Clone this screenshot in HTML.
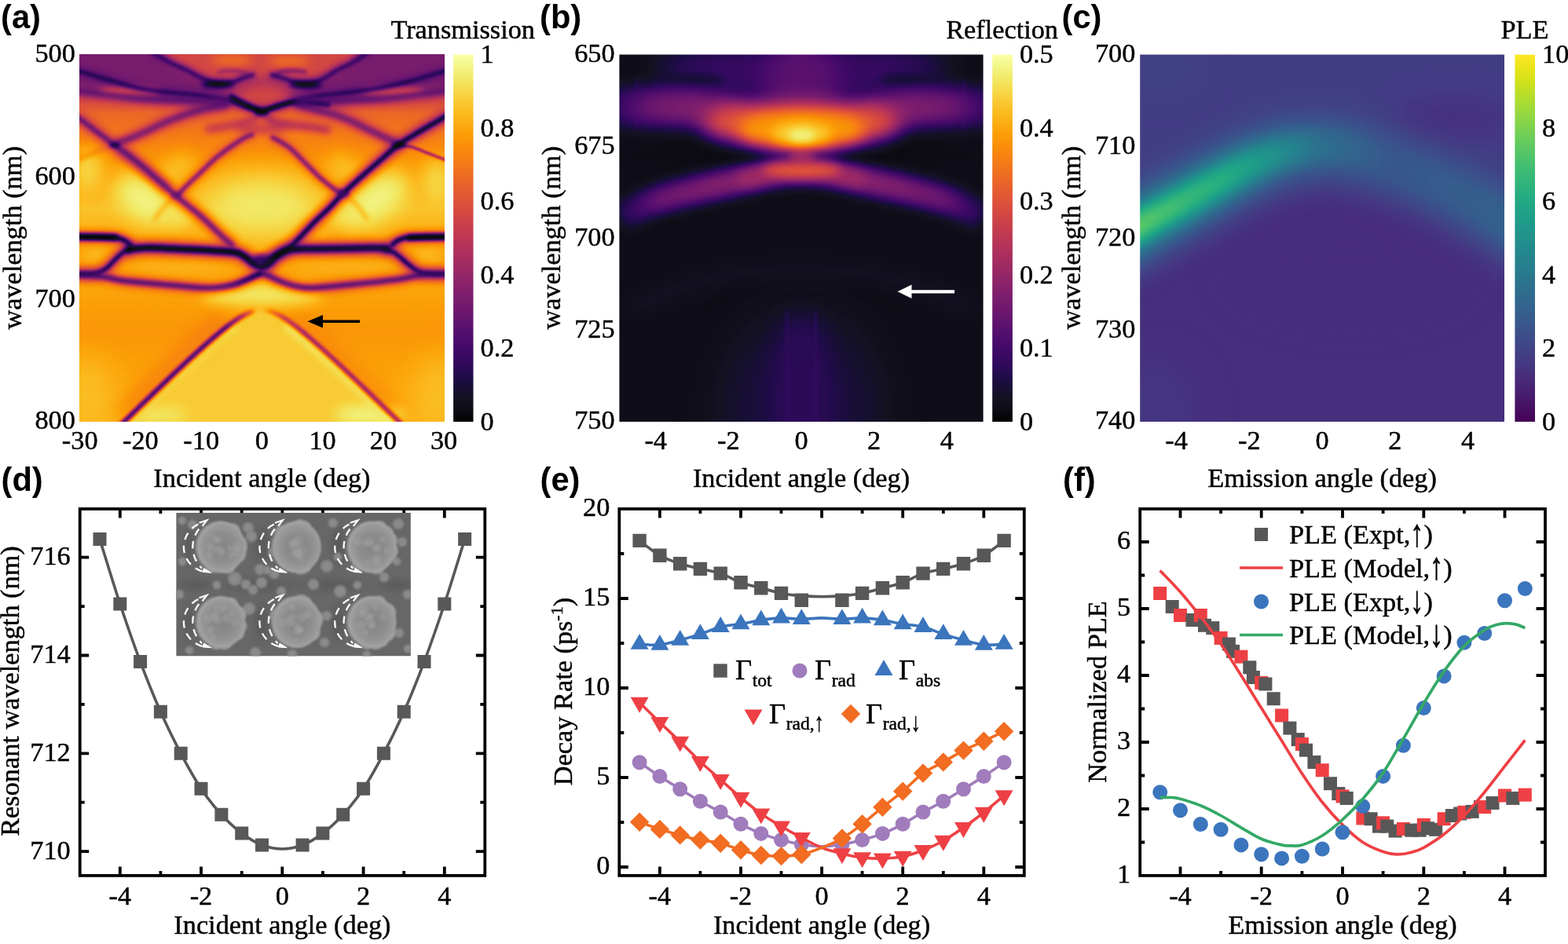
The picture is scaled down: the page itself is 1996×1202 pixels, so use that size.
<!DOCTYPE html>
<html lang="en"><head><meta charset="utf-8"><title>Figure</title>
<style>
html,body{margin:0;padding:0;background:#fff;}
body{width:1996px;height:1202px;overflow:hidden;}
svg{display:block;}
.s{font-family:'Liberation Serif',serif;font-size:34.3px;fill:#000;stroke:#000;stroke-width:.45px;}
.b{font-family:'Liberation Sans',sans-serif;font-weight:bold;font-size:41.7px;fill:#000;}
</style></head><body>
<svg width="1996" height="1202" viewBox="0 0 1996 1202">
<defs>
<linearGradient id="gInf" x1="0" y1="0" x2="0" y2="1"><stop offset="0.000" stop-color="#fcffa4"/><stop offset="0.031" stop-color="#f3f68a"/><stop offset="0.062" stop-color="#f2ea69"/><stop offset="0.094" stop-color="#f5db4c"/><stop offset="0.125" stop-color="#f9cb35"/><stop offset="0.156" stop-color="#fbbc21"/><stop offset="0.188" stop-color="#fcac11"/><stop offset="0.219" stop-color="#fb9d07"/><stop offset="0.250" stop-color="#f98e09"/><stop offset="0.281" stop-color="#f68013"/><stop offset="0.312" stop-color="#f1731d"/><stop offset="0.344" stop-color="#eb6628"/><stop offset="0.375" stop-color="#e45a31"/><stop offset="0.406" stop-color="#db503b"/><stop offset="0.438" stop-color="#d24644"/><stop offset="0.469" stop-color="#c73e4c"/><stop offset="0.500" stop-color="#bc3754"/><stop offset="0.531" stop-color="#b0315b"/><stop offset="0.562" stop-color="#a32c61"/><stop offset="0.594" stop-color="#972766"/><stop offset="0.625" stop-color="#8a226a"/><stop offset="0.656" stop-color="#7d1e6d"/><stop offset="0.688" stop-color="#71196e"/><stop offset="0.719" stop-color="#64156e"/><stop offset="0.750" stop-color="#57106e"/><stop offset="0.781" stop-color="#4a0c6b"/><stop offset="0.812" stop-color="#3d0965"/><stop offset="0.844" stop-color="#2f0a5b"/><stop offset="0.875" stop-color="#210c4a"/><stop offset="0.906" stop-color="#170f36"/><stop offset="0.938" stop-color="#141121"/><stop offset="0.969" stop-color="#0d0b13"/><stop offset="1.000" stop-color="#000000"/></linearGradient>
<linearGradient id="gVir" x1="0" y1="0" x2="0" y2="1"><stop offset="0.000" stop-color="#fde725"/><stop offset="0.031" stop-color="#ece51b"/><stop offset="0.062" stop-color="#d8e219"/><stop offset="0.094" stop-color="#c2df23"/><stop offset="0.125" stop-color="#addc30"/><stop offset="0.156" stop-color="#98d83e"/><stop offset="0.188" stop-color="#84d44b"/><stop offset="0.219" stop-color="#70cf57"/><stop offset="0.250" stop-color="#5ec962"/><stop offset="0.281" stop-color="#4ec36b"/><stop offset="0.312" stop-color="#3fbc73"/><stop offset="0.344" stop-color="#32b67a"/><stop offset="0.375" stop-color="#28ae80"/><stop offset="0.406" stop-color="#22a785"/><stop offset="0.438" stop-color="#1fa088"/><stop offset="0.469" stop-color="#1f988b"/><stop offset="0.500" stop-color="#21918c"/><stop offset="0.531" stop-color="#23898e"/><stop offset="0.562" stop-color="#26828e"/><stop offset="0.594" stop-color="#297a8e"/><stop offset="0.625" stop-color="#2c728e"/><stop offset="0.656" stop-color="#2f6b8e"/><stop offset="0.688" stop-color="#33638d"/><stop offset="0.719" stop-color="#375b8d"/><stop offset="0.750" stop-color="#3b528b"/><stop offset="0.781" stop-color="#3e4989"/><stop offset="0.812" stop-color="#424086"/><stop offset="0.844" stop-color="#453781"/><stop offset="0.875" stop-color="#472d7b"/><stop offset="0.906" stop-color="#482374"/><stop offset="0.938" stop-color="#48186a"/><stop offset="0.969" stop-color="#470d60"/><stop offset="1.000" stop-color="#440154"/></linearGradient>
<clipPath id="cfA"><rect x="101.7" y="69.6" width="463.4" height="467.4"/></clipPath>
<filter id="fA" x="100" y="68" width="467" height="471" filterUnits="userSpaceOnUse" color-interpolation-filters="sRGB"><feComponentTransfer><feFuncR type="table" tableValues="0.000 0.050 0.080 0.092 0.129 0.183 0.238 0.291 0.342 0.391 0.441 0.491 0.541 0.591 0.640 0.689 0.736 0.781 0.822 0.861 0.894 0.923 0.947 0.965 0.978 0.986 0.988 0.984 0.975 0.961 0.948 0.955 0.988"/><feFuncG type="table" tableValues="0.000 0.045 0.068 0.060 0.047 0.040 0.037 0.046 0.062 0.081 0.099 0.117 0.135 0.153 0.171 0.192 0.216 0.243 0.275 0.312 0.353 0.399 0.449 0.502 0.558 0.616 0.675 0.736 0.798 0.859 0.917 0.966 0.998"/><feFuncB type="table" tableValues="0.000 0.075 0.130 0.210 0.291 0.355 0.396 0.419 0.429 0.433 0.432 0.426 0.415 0.400 0.381 0.358 0.330 0.300 0.266 0.231 0.194 0.155 0.115 0.074 0.035 0.026 0.065 0.130 0.206 0.298 0.411 0.540 0.645"/></feComponentTransfer></filter>
<linearGradient id="gA0" x1="0" y1="69.6" x2="0" y2="537.0" gradientUnits="userSpaceOnUse"><stop offset="0" stop-color="#737373"/><stop offset="0.10" stop-color="#808080"/><stop offset="0.16" stop-color="#a8a8a8"/><stop offset="0.30" stop-color="#c7c7c7"/><stop offset="0.42" stop-color="#dbdbdb"/><stop offset="0.52" stop-color="#cccccc"/><stop offset="0.62" stop-color="#cccccc"/><stop offset="0.75" stop-color="#c4c4c4"/><stop offset="1" stop-color="#d1d1d1"/></linearGradient>
<linearGradient id="hg1" gradientUnits="userSpaceOnUse" x1="160" y1="0" x2="496" y2="0"><stop offset="0.000" stop-color="#000000"/><stop offset="0.506" stop-color="#000000"/><stop offset="0.655" stop-color="#080808"/><stop offset="1.000" stop-color="#0f0f0f"/></linearGradient>
<linearGradient id="hg2" gradientUnits="userSpaceOnUse" x1="250" y1="0" x2="333" y2="0"><stop offset="0.000" stop-color="#262626" stop-opacity="0.00"/><stop offset="0.361" stop-color="#1f1f1f" stop-opacity="0.00"/><stop offset="0.723" stop-color="#0d0d0d" stop-opacity="0.60"/><stop offset="1.000" stop-color="#000000" stop-opacity="0.90"/></linearGradient>
<linearGradient id="hg3" gradientUnits="userSpaceOnUse" x1="147" y1="0" x2="332" y2="0"><stop offset="0.000" stop-color="#080808" stop-opacity="1.00"/><stop offset="0.746" stop-color="#0f0f0f" stop-opacity="1.00"/><stop offset="0.870" stop-color="#404040" stop-opacity="0.85"/><stop offset="0.946" stop-color="#737373" stop-opacity="0.50"/><stop offset="1.000" stop-color="#999999" stop-opacity="0.00"/></linearGradient>
<linearGradient id="hg4" gradientUnits="userSpaceOnUse" x1="335" y1="0" x2="525" y2="0"><stop offset="0.000" stop-color="#999999" stop-opacity="0.00"/><stop offset="0.053" stop-color="#808080" stop-opacity="0.50"/><stop offset="0.132" stop-color="#595959" stop-opacity="0.80"/><stop offset="0.263" stop-color="#454545" stop-opacity="0.92"/><stop offset="1.000" stop-color="#404040" stop-opacity="0.92"/></linearGradient>
<filter id="b30" x="0" y="0" width="1996" height="640" filterUnits="userSpaceOnUse" color-interpolation-filters="sRGB"><feGaussianBlur stdDeviation="3"/></filter>
<filter id="b50" x="0" y="0" width="1996" height="640" filterUnits="userSpaceOnUse" color-interpolation-filters="sRGB"><feGaussianBlur stdDeviation="5"/></filter>
<filter id="b80" x="0" y="0" width="1996" height="640" filterUnits="userSpaceOnUse" color-interpolation-filters="sRGB"><feGaussianBlur stdDeviation="8"/></filter>
<filter id="b90" x="0" y="0" width="1996" height="640" filterUnits="userSpaceOnUse" color-interpolation-filters="sRGB"><feGaussianBlur stdDeviation="9"/></filter>
<filter id="b180" x="0" y="0" width="1996" height="640" filterUnits="userSpaceOnUse" color-interpolation-filters="sRGB"><feGaussianBlur stdDeviation="18"/></filter>
<filter id="b200" x="0" y="0" width="1996" height="640" filterUnits="userSpaceOnUse" color-interpolation-filters="sRGB"><feGaussianBlur stdDeviation="20"/></filter>
<filter id="b130" x="0" y="0" width="1996" height="640" filterUnits="userSpaceOnUse" color-interpolation-filters="sRGB"><feGaussianBlur stdDeviation="13"/></filter>
<filter id="b100" x="0" y="0" width="1996" height="640" filterUnits="userSpaceOnUse" color-interpolation-filters="sRGB"><feGaussianBlur stdDeviation="10"/></filter>
<filter id="b60" x="0" y="0" width="1996" height="640" filterUnits="userSpaceOnUse" color-interpolation-filters="sRGB"><feGaussianBlur stdDeviation="6"/></filter>
<filter id="b70" x="0" y="0" width="1996" height="640" filterUnits="userSpaceOnUse" color-interpolation-filters="sRGB"><feGaussianBlur stdDeviation="7"/></filter>
<filter id="b40" x="0" y="0" width="1996" height="640" filterUnits="userSpaceOnUse" color-interpolation-filters="sRGB"><feGaussianBlur stdDeviation="4"/></filter>
<filter id="b22" x="0" y="0" width="1996" height="640" filterUnits="userSpaceOnUse" color-interpolation-filters="sRGB"><feGaussianBlur stdDeviation="2.2"/></filter>
<filter id="b24" x="0" y="0" width="1996" height="640" filterUnits="userSpaceOnUse" color-interpolation-filters="sRGB"><feGaussianBlur stdDeviation="2.4"/></filter>
<filter id="b25" x="0" y="0" width="1996" height="640" filterUnits="userSpaceOnUse" color-interpolation-filters="sRGB"><feGaussianBlur stdDeviation="2.5"/></filter>
<filter id="b18" x="0" y="0" width="1996" height="640" filterUnits="userSpaceOnUse" color-interpolation-filters="sRGB"><feGaussianBlur stdDeviation="1.8"/></filter>
<filter id="b55" x="0" y="0" width="1996" height="640" filterUnits="userSpaceOnUse" color-interpolation-filters="sRGB"><feGaussianBlur stdDeviation="5.5"/></filter>
<filter id="b23" x="0" y="0" width="1996" height="640" filterUnits="userSpaceOnUse" color-interpolation-filters="sRGB"><feGaussianBlur stdDeviation="2.3"/></filter>
<filter id="b35" x="0" y="0" width="1996" height="640" filterUnits="userSpaceOnUse" color-interpolation-filters="sRGB"><feGaussianBlur stdDeviation="3.5"/></filter>
<filter id="b19" x="0" y="0" width="1996" height="640" filterUnits="userSpaceOnUse" color-interpolation-filters="sRGB"><feGaussianBlur stdDeviation="1.9"/></filter>
<filter id="b20" x="0" y="0" width="1996" height="640" filterUnits="userSpaceOnUse" color-interpolation-filters="sRGB"><feGaussianBlur stdDeviation="2.0"/></filter>
<clipPath id="cfB"><rect x="788.4" y="69.6" width="463.2" height="467.4"/></clipPath>
<filter id="fB" x="787" y="68" width="467" height="471" filterUnits="userSpaceOnUse" color-interpolation-filters="sRGB"><feComponentTransfer><feFuncR type="table" tableValues="0.000 0.050 0.080 0.092 0.129 0.183 0.238 0.291 0.342 0.391 0.441 0.491 0.541 0.591 0.640 0.689 0.736 0.781 0.822 0.861 0.894 0.923 0.947 0.965 0.978 0.986 0.988 0.984 0.975 0.961 0.948 0.955 0.988"/><feFuncG type="table" tableValues="0.000 0.045 0.068 0.060 0.047 0.040 0.037 0.046 0.062 0.081 0.099 0.117 0.135 0.153 0.171 0.192 0.216 0.243 0.275 0.312 0.353 0.399 0.449 0.502 0.558 0.616 0.675 0.736 0.798 0.859 0.917 0.966 0.998"/><feFuncB type="table" tableValues="0.000 0.075 0.130 0.210 0.291 0.355 0.396 0.419 0.429 0.433 0.432 0.426 0.415 0.400 0.381 0.358 0.330 0.300 0.266 0.231 0.194 0.155 0.115 0.074 0.035 0.026 0.065 0.130 0.206 0.298 0.411 0.540 0.645"/></feComponentTransfer></filter>
<linearGradient id="hg5" gradientUnits="userSpaceOnUse" x1="795" y1="0" x2="1246" y2="0"><stop offset="0.000" stop-color="#333333"/><stop offset="0.078" stop-color="#4f4f4f"/><stop offset="0.188" stop-color="#595959"/><stop offset="0.322" stop-color="#616161"/><stop offset="0.678" stop-color="#616161"/><stop offset="0.812" stop-color="#595959"/><stop offset="0.922" stop-color="#4f4f4f"/><stop offset="1.000" stop-color="#333333"/></linearGradient>
<linearGradient id="hg6" gradientUnits="userSpaceOnUse" x1="800" y1="0" x2="1241" y2="0"><stop offset="0.000" stop-color="#292929"/><stop offset="0.091" stop-color="#4c4c4c"/><stop offset="0.227" stop-color="#595959"/><stop offset="0.363" stop-color="#616161"/><stop offset="0.637" stop-color="#616161"/><stop offset="0.773" stop-color="#595959"/><stop offset="0.909" stop-color="#4c4c4c"/><stop offset="1.000" stop-color="#292929"/></linearGradient>
<filter id="b160" x="0" y="0" width="1996" height="640" filterUnits="userSpaceOnUse" color-interpolation-filters="sRGB"><feGaussianBlur stdDeviation="16"/></filter>
<filter id="b300" x="0" y="0" width="1996" height="640" filterUnits="userSpaceOnUse" color-interpolation-filters="sRGB"><feGaussianBlur stdDeviation="30"/></filter>
<filter id="b140" x="0" y="0" width="1996" height="640" filterUnits="userSpaceOnUse" color-interpolation-filters="sRGB"><feGaussianBlur stdDeviation="14"/></filter>
<filter id="b120" x="0" y="0" width="1996" height="640" filterUnits="userSpaceOnUse" color-interpolation-filters="sRGB"><feGaussianBlur stdDeviation="12"/></filter>
<clipPath id="cfC"><rect x="1451.2" y="69.6" width="463.8" height="467.4"/></clipPath>
<filter id="fC" x="1450" y="68" width="467" height="471" filterUnits="userSpaceOnUse" color-interpolation-filters="sRGB"><feComponentTransfer><feFuncR type="table" tableValues="0.267 0.277 0.282 0.283 0.279 0.271 0.259 0.245 0.230 0.214 0.199 0.186 0.173 0.161 0.149 0.138 0.128 0.121 0.121 0.132 0.158 0.197 0.246 0.304 0.369 0.440 0.516 0.596 0.678 0.762 0.846 0.926 0.993"/><feFuncG type="table" tableValues="0.005 0.050 0.095 0.136 0.175 0.214 0.252 0.288 0.322 0.356 0.388 0.419 0.449 0.479 0.508 0.537 0.567 0.596 0.626 0.655 0.684 0.712 0.739 0.765 0.789 0.811 0.831 0.849 0.864 0.876 0.887 0.897 0.906"/><feFuncB type="table" tableValues="0.329 0.376 0.417 0.453 0.483 0.507 0.525 0.537 0.546 0.551 0.555 0.557 0.558 0.558 0.557 0.555 0.551 0.544 0.533 0.520 0.502 0.479 0.452 0.420 0.383 0.341 0.294 0.243 0.190 0.137 0.100 0.104 0.144"/></feComponentTransfer></filter>
<linearGradient id="hg7" gradientUnits="userSpaceOnUse" x1="1451" y1="0" x2="1915" y2="0"><stop offset="0.000" stop-color="#5c5c5c"/><stop offset="0.235" stop-color="#525252"/><stop offset="0.472" stop-color="#454545"/><stop offset="0.709" stop-color="#3c3c3c"/><stop offset="1.000" stop-color="#424242"/></linearGradient>
<linearGradient id="hg8" gradientUnits="userSpaceOnUse" x1="1451" y1="0" x2="1915" y2="0"><stop offset="0.000" stop-color="#8a8a8a"/><stop offset="0.192" stop-color="#808080"/><stop offset="0.321" stop-color="#707070"/><stop offset="0.472" stop-color="#575757"/><stop offset="0.688" stop-color="#424242"/><stop offset="1.000" stop-color="#4c4c4c"/></linearGradient>
<linearGradient id="hg9" gradientUnits="userSpaceOnUse" x1="1451" y1="0" x2="1915" y2="0"><stop offset="0.000" stop-color="#c2c2c2"/><stop offset="0.106" stop-color="#b2b2b2"/><stop offset="0.235" stop-color="#a1a1a1"/><stop offset="0.364" stop-color="#858585"/><stop offset="0.494" stop-color="#5e5e5e"/><stop offset="0.688" stop-color="#454545"/><stop offset="1.000" stop-color="#4f4f4f"/></linearGradient>
<filter id="b220" x="0" y="0" width="1996" height="640" filterUnits="userSpaceOnUse" color-interpolation-filters="sRGB"><feGaussianBlur stdDeviation="22"/></filter>
<filter id="b250" x="0" y="0" width="1996" height="640" filterUnits="userSpaceOnUse" color-interpolation-filters="sRGB"><feGaussianBlur stdDeviation="25"/></filter>
<filter id="b85" x="0" y="0" width="1996" height="640" filterUnits="userSpaceOnUse" color-interpolation-filters="sRGB"><feGaussianBlur stdDeviation="8.5"/></filter>
<radialGradient id="semP" cx="0.53" cy="0.5" r="0.5"><stop offset="0" stop-color="#848484"/><stop offset="0.55" stop-color="#8d8d8d"/><stop offset="0.86" stop-color="#9b9b9b"/><stop offset="0.96" stop-color="#a6a6a6"/><stop offset="1" stop-color="#8c8c8c"/></radialGradient>
<radialGradient id="semS" cx="0.5" cy="0.5" r="0.5"><stop offset="0" stop-color="#8e8e8e"/><stop offset="0.72" stop-color="#868686"/><stop offset="1" stop-color="#6a6a6a" stop-opacity="0"/></radialGradient>
<radialGradient id="semL" cx="0.5" cy="0.5" r="0.5"><stop offset="0" stop-color="#a2a2a2" stop-opacity="0.5"/><stop offset="0.8" stop-color="#9c9c9c" stop-opacity="0.35"/><stop offset="1" stop-color="#6f6f6f" stop-opacity="0.25"/></radialGradient>
<radialGradient id="semD" cx="0.5" cy="0.5" r="0.5"><stop offset="0" stop-color="#585858" stop-opacity="0.85"/><stop offset="1" stop-color="#585858" stop-opacity="0"/></radialGradient>
<clipPath id="semC"><rect x="224.2" y="653.0" width="298.7" height="182.5"/></clipPath>
<filter id="semB" x="200" y="640" width="350" height="210" filterUnits="userSpaceOnUse"><feGaussianBlur stdDeviation="0.8"/></filter>
</defs>
<rect width="1996" height="1202" fill="#fff"/>
<g clip-path="url(#cfA)"><g filter="url(#fA)">
<rect x="81.7" y="49.599999999999994" width="503.4" height="507.4" fill="url(#gA0)"/>
<g filter="url(#b30)"><path d="M143.0 567.0L143.0 551.6L153.0 541.8L163.0 532.1L173.0 522.4L183.0 512.7L193.0 503.0L203.0 493.4L213.0 483.8L223.0 474.3L233.0 464.9L243.0 455.6L253.0 446.5L263.0 437.5L273.0 428.8L283.0 420.5L293.0 412.7L303.0 405.8L313.0 400.2L323.0 396.4L333.0 395.0L343.0 396.4L353.0 400.2L363.0 405.8L373.0 412.7L383.0 420.5L393.0 428.8L403.0 437.5L413.0 446.5L423.0 455.6L433.0 464.9L443.0 474.3L453.0 483.8L463.0 493.4L473.0 503.0L483.0 512.7L493.0 522.4L503.0 532.1L513.0 541.8L523.0 551.6L523.0 567.0z" fill="#dfdfdf"/></g>
<g filter="url(#b50)"><path d="M158.0 546.0C160.0 544.0 166.0 538.2 170.0 534.3C174.0 530.4 178.0 526.5 182.0 522.6C186.0 518.8 190.0 514.9 194.0 511.0C198.0 507.2 202.0 503.4 206.0 499.5C210.0 495.7 214.0 491.9 218.0 488.1C222.0 484.3 226.0 480.5 230.0 476.7C234.0 473.0 238.0 469.2 242.0 465.6C246.0 461.9 250.0 458.2 254.0 454.6C258.0 450.9 262.0 447.4 266.0 443.9C270.0 440.4 274.0 436.9 278.0 433.6C282.0 430.3 286.0 427.0 290.0 424.0C294.0 421.0 300.0 416.9 302.0 415.5" fill="none" stroke="#f2f2f2" stroke-width="9" stroke-opacity="0.80"/><path d="M363.0 414.8C365.0 416.2 371.0 420.2 375.0 423.2C379.0 426.2 383.0 429.5 387.0 432.8C391.0 436.0 395.0 439.5 399.0 443.0C403.0 446.5 407.0 450.0 411.0 453.7C415.0 457.3 419.0 460.9 423.0 464.6C427.0 468.3 431.0 472.1 435.0 475.8C439.0 479.6 443.0 483.3 447.0 487.1C451.0 490.9 455.0 494.7 459.0 498.6C463.0 502.4 467.0 506.2 471.0 510.1C475.0 513.9 479.0 517.8 483.0 521.7C487.0 525.5 491.0 529.4 495.0 533.3C499.0 537.2 505.0 543.0 507.0 545.0" fill="none" stroke="#f7f7f7" stroke-width="10" stroke-opacity="0.90"/></g>
<g filter="url(#b80)"><ellipse cx="200.0" cy="528.0" rx="40.0" ry="10.0" fill="#f2f2f2" fill-opacity="0.80"/><ellipse cx="470.0" cy="528.0" rx="45.0" ry="12.0" fill="#f7f7f7" fill-opacity="0.90"/></g>
<g filter="url(#b90)"><path d="M153.0 527.8C155.0 525.9 161.0 520.0 165.0 516.1C169.0 512.2 173.0 508.4 177.0 504.5C181.0 500.6 185.0 496.7 189.0 492.9C193.0 489.0 197.0 485.2 201.0 481.3C205.0 477.5 209.0 473.6 213.0 469.8C217.0 466.0 221.0 462.2 225.0 458.5C229.0 454.7 233.0 450.9 237.0 447.2C241.0 443.5 245.0 439.8 249.0 436.1C253.0 432.5 257.0 428.8 261.0 425.3C265.0 421.7 269.0 418.2 273.0 414.8C277.0 411.4 283.0 406.5 285.0 404.9" fill="none" stroke="#b2b2b2" stroke-width="22" stroke-opacity="0.70"/><path d="M373.0 400.7C375.0 402.3 381.0 406.9 385.0 410.1C389.0 413.4 393.0 416.8 397.0 420.2C401.0 423.7 405.0 427.3 409.0 430.9C413.0 434.4 417.0 438.1 421.0 441.8C425.0 445.5 429.0 449.2 433.0 452.9C437.0 456.7 441.0 460.4 445.0 464.2C449.0 468.0 453.0 471.8 457.0 475.7C461.0 479.5 465.0 483.3 469.0 487.2C473.0 491.0 477.0 494.9 481.0 498.7C485.0 502.6 489.0 506.5 493.0 510.4C497.0 514.2 503.0 520.1 505.0 522.0" fill="none" stroke="#b8b8b8" stroke-width="18" stroke-opacity="0.60"/></g>
<g filter="url(#b180)"><ellipse cx="110.0" cy="500.0" rx="35.0" ry="50.0" fill="#dbdbdb" fill-opacity="0.80"/><ellipse cx="560.0" cy="500.0" rx="35.0" ry="50.0" fill="#dbdbdb" fill-opacity="0.80"/></g>
<g filter="url(#b90)"><ellipse cx="333.0" cy="375.0" rx="78.0" ry="15.0" fill="#f0f0f0" fill-opacity="0.95"/></g>
<g filter="url(#b200)"><ellipse cx="333.0" cy="262.0" rx="72.0" ry="40.0" fill="#f2f2f2" fill-opacity="0.90"/></g>
<g filter="url(#b130)"><ellipse cx="183.0" cy="254.0" rx="42.0" ry="26.0" fill="#f7f7f7" fill-opacity="0.95" transform="rotate(35 183.0 254.0)"/><ellipse cx="478.0" cy="254.0" rx="48.0" ry="26.0" fill="#f7f7f7" fill-opacity="0.95" transform="rotate(-35 478.0 254.0)"/></g>
<g filter="url(#b80)"><ellipse cx="226.0" cy="276.0" rx="20.0" ry="14.0" fill="#ededed" fill-opacity="0.80"/><ellipse cx="440.0" cy="272.0" rx="22.0" ry="14.0" fill="#ededed" fill-opacity="0.80"/></g>
<g filter="url(#b100)"><ellipse cx="112.0" cy="215.0" rx="18.0" ry="28.0" fill="#ebebeb" fill-opacity="0.80"/><ellipse cx="556.0" cy="230.0" rx="18.0" ry="28.0" fill="#ebebeb" fill-opacity="0.80"/><ellipse cx="225.0" cy="215.0" rx="26.0" ry="16.0" fill="#e0e0e0" fill-opacity="0.70" transform="rotate(-40 225.0 215.0)"/><ellipse cx="440.0" cy="215.0" rx="26.0" ry="16.0" fill="#e0e0e0" fill-opacity="0.70" transform="rotate(40 440.0 215.0)"/></g>
<g filter="url(#b60)"><ellipse cx="230.0" cy="340.0" rx="62.0" ry="9.0" fill="#d6d6d6" fill-opacity="0.60"/><ellipse cx="440.0" cy="338.0" rx="62.0" ry="9.0" fill="#d6d6d6" fill-opacity="0.60"/></g>
<g filter="url(#b70)"><ellipse cx="122.0" cy="325.0" rx="16.0" ry="12.0" fill="#dbdbdb" fill-opacity="0.60"/><ellipse cx="545.0" cy="325.0" rx="16.0" ry="12.0" fill="#dbdbdb" fill-opacity="0.60"/></g>
<g filter="url(#b50)"><path d="M193.0 55.0L470.0 55.0L448.0 80.0L428.0 90.0L400.0 104.0L366.0 100.0L345.0 97.0L336.0 96.0L322.0 98.0L300.0 101.0L268.0 104.0L236.0 88.0L217.0 80.0z" fill="#919191"/></g>
<g filter="url(#b60)"><ellipse cx="295.0" cy="76.0" rx="26.0" ry="8.0" fill="#adadad" fill-opacity="0.90"/><ellipse cx="368.0" cy="78.0" rx="26.0" ry="8.0" fill="#adadad" fill-opacity="0.90"/></g>
<g filter="url(#b70)"><path d="M90.0 55.0L190.0 55.0L215.0 82.0L250.0 100.0L280.0 112.0L300.0 122.0L290.0 133.0L200.0 125.0L90.0 113.0z" fill="#545454" fill-opacity="0.97"/><path d="M580.0 55.0L474.0 55.0L450.0 82.0L415.0 100.0L386.0 112.0L366.0 122.0L377.0 133.0L470.0 125.0L580.0 113.0z" fill="#545454" fill-opacity="0.97"/></g>
<g filter="url(#b40)"><ellipse cx="165.0" cy="116.5" rx="40.0" ry="5.5" fill="#b8b8b8" fill-opacity="0.95"/><ellipse cx="500.0" cy="116.5" rx="40.0" ry="5.5" fill="#b8b8b8" fill-opacity="0.95"/></g>
<g filter="url(#b50)"><ellipse cx="336.0" cy="123.0" rx="24.0" ry="11.0" fill="#8f8f8f" fill-opacity="0.95"/><ellipse cx="300.0" cy="147.0" rx="22.0" ry="7.0" fill="#a8a8a8" fill-opacity="0.85"/><ellipse cx="372.0" cy="148.0" rx="24.0" ry="7.0" fill="#a8a8a8" fill-opacity="0.85"/></g>
<g filter="url(#b60)"><ellipse cx="243.0" cy="138.0" rx="22.0" ry="7.0" fill="#9e9e9e" fill-opacity="0.70"/><ellipse cx="430.0" cy="138.0" rx="22.0" ry="6.0" fill="#999999" fill-opacity="0.60"/></g>
<g filter="url(#b70)"><ellipse cx="262.0" cy="130.0" rx="30.0" ry="8.0" fill="#5c5c5c" fill-opacity="0.70"/></g>
<g filter="url(#b50)"><ellipse cx="333.0" cy="164.0" rx="34.0" ry="6.0" fill="#787878" fill-opacity="0.75"/></g>
<g filter="url(#b70)"><ellipse cx="410.0" cy="128.0" rx="30.0" ry="8.0" fill="#5c5c5c" fill-opacity="0.70"/></g>
<g filter="url(#b50)"><path d="M150.0 190.0C155.0 193.7 169.2 203.7 180.0 212.0C190.8 220.3 209.2 235.3 215.0 240.0" fill="none" stroke="#737373" stroke-width="12" stroke-opacity="0.60"/><path d="M96.0 89.0C103.2 91.2 125.3 98.1 139.0 102.0C152.7 105.9 165.0 109.8 178.0 112.5C191.0 115.2 204.2 116.4 217.0 118.0C229.8 119.6 242.8 120.3 255.0 122.0C267.2 123.7 280.5 125.7 290.0 128.0C299.5 130.3 304.8 133.8 312.0 136.0C319.2 138.2 329.5 140.2 333.0 141.0" fill="none" stroke="#333333" stroke-width="11" stroke-opacity="0.55"/></g>
<g filter="url(#b22)"><path d="M96.0 89.0C103.2 91.2 125.3 98.1 139.0 102.0C152.7 105.9 165.0 109.8 178.0 112.5C191.0 115.2 204.2 116.4 217.0 118.0C229.8 119.6 242.8 120.3 255.0 122.0C267.2 123.7 280.5 125.7 290.0 128.0C299.5 130.3 304.8 133.8 312.0 136.0C319.2 138.2 329.5 140.2 333.0 141.0" fill="none" stroke="#0d0d0d" stroke-width="4" stroke-opacity="0.90"/></g>
<g filter="url(#b50)"><path d="M571.0 89.0C563.7 91.2 540.8 98.3 527.0 102.0C513.2 105.7 500.8 108.5 488.0 111.0C475.2 113.5 463.0 115.2 450.0 117.0C437.0 118.8 422.2 120.2 410.0 122.0C397.8 123.8 386.2 125.7 377.0 128.0C367.8 130.3 362.3 133.8 355.0 136.0C347.7 138.2 336.7 140.2 333.0 141.0" fill="none" stroke="#333333" stroke-width="11" stroke-opacity="0.55"/></g>
<g filter="url(#b22)"><path d="M571.0 89.0C563.7 91.2 540.8 98.3 527.0 102.0C513.2 105.7 500.8 108.5 488.0 111.0C475.2 113.5 463.0 115.2 450.0 117.0C437.0 118.8 422.2 120.2 410.0 122.0C397.8 123.8 386.2 125.7 377.0 128.0C367.8 130.3 362.3 133.8 355.0 136.0C347.7 138.2 336.7 140.2 333.0 141.0" fill="none" stroke="#0d0d0d" stroke-width="4" stroke-opacity="0.90"/></g>
<g filter="url(#b50)"><path d="M193.0 66.0C197.0 68.3 209.8 76.2 217.0 80.0C224.2 83.8 229.5 85.3 236.0 88.5C242.5 91.7 249.5 96.2 256.0 99.0C262.5 101.8 268.5 104.5 275.0 105.5C281.5 106.5 289.2 106.1 295.0 105.0C300.8 103.9 305.2 100.7 310.0 99.0C314.8 97.3 321.7 95.7 324.0 95.0" fill="none" stroke="#333333" stroke-width="10" stroke-opacity="0.50"/></g>
<g filter="url(#b22)"><path d="M193.0 66.0C197.0 68.3 209.8 76.2 217.0 80.0C224.2 83.8 229.5 85.3 236.0 88.5C242.5 91.7 249.5 96.2 256.0 99.0C262.5 101.8 268.5 104.5 275.0 105.5C281.5 106.5 289.2 106.1 295.0 105.0C300.8 103.9 305.2 100.7 310.0 99.0C314.8 97.3 321.7 95.7 324.0 95.0" fill="none" stroke="#141414" stroke-width="4" stroke-opacity="0.85"/></g>
<g filter="url(#b50)"><path d="M470.0 66.0C466.3 68.3 455.0 76.0 448.0 80.0C441.0 84.0 434.3 86.5 428.0 90.0C421.7 93.5 416.0 98.3 410.0 101.0C404.0 103.7 398.0 105.5 392.0 106.0C386.0 106.5 379.7 105.2 374.0 104.0C368.3 102.8 363.0 100.5 358.0 99.0C353.0 97.5 346.3 95.7 344.0 95.0" fill="none" stroke="#333333" stroke-width="10" stroke-opacity="0.50"/></g>
<g filter="url(#b22)"><path d="M470.0 66.0C466.3 68.3 455.0 76.0 448.0 80.0C441.0 84.0 434.3 86.5 428.0 90.0C421.7 93.5 416.0 98.3 410.0 101.0C404.0 103.7 398.0 105.5 392.0 106.0C386.0 106.5 379.7 105.2 374.0 104.0C368.3 102.8 363.0 100.5 358.0 99.0C353.0 97.5 346.3 95.7 344.0 95.0" fill="none" stroke="#141414" stroke-width="4" stroke-opacity="0.85"/></g>
<g filter="url(#b50)"><path d="M96.0 115.0C103.2 116.0 125.3 119.2 139.0 121.0C152.7 122.8 165.0 124.4 178.0 125.5C191.0 126.6 204.0 126.9 217.0 127.5C230.0 128.1 243.8 128.4 256.0 129.0C268.2 129.6 284.3 130.7 290.0 131.0" fill="none" stroke="#4c4c4c" stroke-width="12" stroke-opacity="0.40"/></g>
<g filter="url(#b30)"><path d="M96.0 115.0C103.2 116.0 125.3 119.2 139.0 121.0C152.7 122.8 165.0 124.4 178.0 125.5C191.0 126.6 204.0 126.9 217.0 127.5C230.0 128.1 243.8 128.4 256.0 129.0C268.2 129.6 284.3 130.7 290.0 131.0" fill="none" stroke="#2e2e2e" stroke-width="5" stroke-opacity="0.85"/></g>
<g filter="url(#b50)"><path d="M571.0 115.0C563.7 116.0 540.8 119.2 527.0 121.0C513.2 122.8 500.8 124.4 488.0 125.5C475.2 126.6 463.0 126.9 450.0 127.5C437.0 128.1 422.2 128.4 410.0 129.0C397.8 129.6 382.5 130.7 377.0 131.0" fill="none" stroke="#4c4c4c" stroke-width="12" stroke-opacity="0.40"/></g>
<g filter="url(#b30)"><path d="M571.0 115.0C563.7 116.0 540.8 119.2 527.0 121.0C513.2 122.8 500.8 124.4 488.0 125.5C475.2 126.6 463.0 126.9 450.0 127.5C437.0 128.1 422.2 128.4 410.0 129.0C397.8 129.6 382.5 130.7 377.0 131.0" fill="none" stroke="#2e2e2e" stroke-width="5" stroke-opacity="0.85"/><ellipse cx="277.0" cy="107.5" rx="21.0" ry="4.5" fill="#000000" fill-opacity="0.95"/></g>
<g filter="url(#b24)"><path d="M292.0 122.5C294.5 123.8 302.2 127.6 307.0 130.0C311.8 132.4 317.0 135.1 321.0 137.0C325.0 138.9 329.3 140.8 331.0 141.5" fill="none" stroke="#000000" stroke-width="6.5"/></g>
<g filter="url(#b22)"><path d="M336.0 141.5C339.0 140.2 348.2 135.8 354.0 134.0C359.8 132.2 364.2 130.9 371.0 130.5C377.8 130.1 386.8 130.9 395.0 131.5C403.2 132.1 415.8 133.6 420.0 134.0" fill="none" stroke="#000000" stroke-width="5" stroke-opacity="0.95"/></g>
<g filter="url(#b40)"><path d="M331.0 146.0C329.0 147.2 323.9 151.5 319.0 153.5C314.1 155.5 307.3 156.6 301.5 158.0C295.7 159.4 290.6 160.5 284.0 161.7C277.4 162.9 265.7 164.4 262.0 165.0" fill="none" stroke="#4c4c4c" stroke-width="7" stroke-opacity="0.60"/><path d="M336.0 146.0C338.0 147.4 342.2 152.5 348.0 154.7C353.8 156.9 363.2 158.1 371.0 159.3C378.8 160.5 386.8 160.6 395.0 161.7C403.2 162.8 415.8 165.3 420.0 166.0" fill="none" stroke="#404040" stroke-width="7" stroke-opacity="0.65"/></g>
<g filter="url(#b25)"><path d="M277.0 92.0C279.2 91.7 285.3 90.2 290.0 90.0C294.7 89.8 300.3 89.8 305.0 91.0C309.7 92.2 315.8 96.0 318.0 97.0" fill="none" stroke="#404040" stroke-width="3.5" stroke-opacity="0.70"/><path d="M390.0 92.0C387.5 91.7 380.0 90.2 375.0 90.0C370.0 89.8 364.7 89.8 360.0 91.0C355.3 92.2 349.2 96.0 347.0 97.0" fill="none" stroke="#262626" stroke-width="3.5" stroke-opacity="0.80"/></g>
<g filter="url(#b30)"><ellipse cx="389.0" cy="108.0" rx="21.0" ry="4.5" fill="#000000" fill-opacity="0.95"/></g>
<g filter="url(#b25)"><ellipse cx="333.0" cy="142.5" rx="9.0" ry="5.0" fill="#000000" fill-opacity="0.95"/></g>
<g filter="url(#b60)"><path d="M145.0 184.0C150.5 181.8 166.0 176.2 178.0 171.0C190.0 165.8 204.0 158.2 217.0 153.0C230.0 147.8 243.8 143.0 256.0 139.5C268.2 136.0 284.3 133.2 290.0 132.0" fill="none" stroke="#616161" stroke-width="15" stroke-opacity="0.50"/></g>
<g filter="url(#b30)"><path d="M145.0 184.0C150.5 181.8 166.0 176.2 178.0 171.0C190.0 165.8 204.0 158.2 217.0 153.0C230.0 147.8 243.8 143.0 256.0 139.5C268.2 136.0 284.3 133.2 290.0 132.0" fill="none" stroke="#383838" stroke-width="6" stroke-opacity="0.88"/></g>
<g filter="url(#b60)"><path d="M509.0 184.0C505.5 182.3 494.8 177.2 488.0 174.0C481.2 170.8 474.5 167.7 468.0 164.5C461.5 161.3 455.5 157.9 449.0 155.0C442.5 152.1 437.2 149.7 429.0 147.0C420.8 144.3 408.7 141.5 400.0 139.0C391.3 136.5 380.8 133.2 377.0 132.0" fill="none" stroke="#616161" stroke-width="15" stroke-opacity="0.50"/></g>
<g filter="url(#b30)"><path d="M509.0 184.0C505.5 182.3 494.8 177.2 488.0 174.0C481.2 170.8 474.5 167.7 468.0 164.5C461.5 161.3 455.5 157.9 449.0 155.0C442.5 152.1 437.2 149.7 429.0 147.0C420.8 144.3 408.7 141.5 400.0 139.0C391.3 136.5 380.8 133.2 377.0 132.0" fill="none" stroke="#383838" stroke-width="6" stroke-opacity="0.88"/><path d="M145.0 184.0C140.8 185.7 128.2 190.7 120.0 194.0C111.8 197.3 100.0 202.3 96.0 204.0" fill="none" stroke="#8c8c8c" stroke-width="3" stroke-opacity="0.60"/></g>
<g filter="url(#b18)"><path d="M509.0 184.0C512.0 184.7 520.8 186.1 527.0 188.0C533.2 189.9 538.7 192.7 546.0 195.5C553.3 198.3 566.8 203.4 571.0 205.0" fill="none" stroke="#262626" stroke-width="2.5" stroke-opacity="0.80"/></g>
<g filter="url(#b55)"><path d="M96.0 147.0C104.2 153.2 131.3 173.7 145.0 184.0C158.7 194.3 164.7 198.0 178.0 209.0C191.3 220.0 212.0 238.9 225.0 250.0C238.0 261.1 246.0 266.7 256.0 275.5C266.0 284.3 278.2 296.8 285.0 303.0C291.8 309.2 295.0 311.3 297.0 313.0" fill="none" stroke="#545454" stroke-width="14" stroke-opacity="0.50"/></g>
<g filter="url(#b25)"><path d="M96.0 147.0C104.2 153.2 131.3 173.7 145.0 184.0C158.7 194.3 164.7 198.0 178.0 209.0C191.3 220.0 212.0 238.9 225.0 250.0C238.0 261.1 246.0 266.7 256.0 275.5C266.0 284.3 278.2 296.8 285.0 303.0C291.8 309.2 295.0 311.3 297.0 313.0" fill="none" stroke="#333333" stroke-width="5" stroke-opacity="0.92"/></g>
<g filter="url(#b22)"><ellipse cx="146.0" cy="184.5" rx="7.0" ry="3.2" fill="#0d0d0d" fill-opacity="0.90"/><ellipse cx="224.0" cy="249.0" rx="6.0" ry="4.0" fill="#333333" fill-opacity="0.80"/><ellipse cx="508.0" cy="184.5" rx="9.0" ry="4.0" fill="#000000" fill-opacity="0.95"/><ellipse cx="437.0" cy="246.5" rx="7.0" ry="4.5" fill="#000000" fill-opacity="0.95"/></g>
<g filter="url(#b55)"><path d="M571.0 146.0C566.8 148.4 553.4 156.2 546.0 160.5C538.6 164.8 533.1 168.0 526.6 172.0C520.1 176.0 513.5 179.7 507.0 184.5C500.5 189.3 494.2 195.4 487.7 201.0C481.2 206.6 476.4 210.5 468.0 218.0C459.6 225.5 445.0 238.3 437.0 246.0C429.0 253.7 426.2 257.8 420.0 264.0C413.8 270.2 406.5 276.5 400.0 283.0C393.5 289.5 386.5 297.3 381.0 303.0C375.5 308.7 372.2 313.0 367.0 317.0C361.8 321.0 355.2 323.5 350.0 327.0C344.8 330.5 338.3 336.2 336.0 338.0" fill="none" stroke="#333333" stroke-width="14" stroke-opacity="0.55"/></g>
<g filter="url(#b22)"><path d="M571.0 146.0C566.8 148.4 553.4 156.2 546.0 160.5C538.6 164.8 533.1 168.0 526.6 172.0C520.1 176.0 513.5 179.7 507.0 184.5C500.5 189.3 494.2 195.4 487.7 201.0C481.2 206.6 476.4 210.5 468.0 218.0C459.6 225.5 445.0 238.3 437.0 246.0C429.0 253.7 426.2 257.8 420.0 264.0C413.8 270.2 406.5 276.5 400.0 283.0C393.5 289.5 386.5 297.3 381.0 303.0C375.5 308.7 372.2 313.0 367.0 317.0C361.8 321.0 355.2 323.5 350.0 327.0C344.8 330.5 338.3 336.2 336.0 338.0" fill="none" stroke="#000000" stroke-width="5.5"/></g>
<g filter="url(#b50)"><path d="M323.0 171.0C321.5 171.5 318.7 171.5 314.0 174.0C309.3 176.5 301.5 181.5 295.0 186.0C288.5 190.5 281.5 195.5 275.0 201.0C268.5 206.5 262.5 212.8 256.0 219.0C249.5 225.2 241.2 232.8 236.0 238.0C230.8 243.2 226.8 248.0 225.0 250.0" fill="none" stroke="#666666" stroke-width="11" stroke-opacity="0.40"/></g>
<g filter="url(#b22)"><path d="M323.0 171.0C321.5 171.5 318.7 171.5 314.0 174.0C309.3 176.5 301.5 181.5 295.0 186.0C288.5 190.5 281.5 195.5 275.0 201.0C268.5 206.5 262.5 212.8 256.0 219.0C249.5 225.2 241.2 232.8 236.0 238.0C230.8 243.2 226.8 248.0 225.0 250.0" fill="none" stroke="#333333" stroke-width="4" stroke-opacity="0.90"/></g>
<g filter="url(#b50)"><path d="M345.0 174.0C347.2 175.2 353.7 178.3 358.0 181.0C362.3 183.7 365.7 185.3 371.0 190.0C376.3 194.7 383.5 202.6 390.0 209.0C396.5 215.4 403.5 222.9 410.0 228.6C416.5 234.3 424.5 240.1 429.0 243.0C433.5 245.9 435.7 245.5 437.0 246.0" fill="none" stroke="#666666" stroke-width="11" stroke-opacity="0.40"/></g>
<g filter="url(#b22)"><path d="M345.0 174.0C347.2 175.2 353.7 178.3 358.0 181.0C362.3 183.7 365.7 185.3 371.0 190.0C376.3 194.7 383.5 202.6 390.0 209.0C396.5 215.4 403.5 222.9 410.0 228.6C416.5 234.3 424.5 240.1 429.0 243.0C433.5 245.9 435.7 245.5 437.0 246.0" fill="none" stroke="#333333" stroke-width="4" stroke-opacity="0.90"/></g>
<g filter="url(#b30)"><path d="M225.0 250.0C222.5 252.0 214.8 257.0 210.0 262.0C205.2 267.0 198.3 277.0 196.0 280.0" fill="none" stroke="#999999" stroke-width="3" stroke-opacity="0.60"/><path d="M437.0 246.0C440.0 248.7 449.8 256.3 455.0 262.0C460.2 267.7 465.8 277.0 468.0 280.0" fill="none" stroke="#999999" stroke-width="3" stroke-opacity="0.60"/></g>
<g filter="url(#b50)"><path d="M96.0 301.5C101.7 301.6 121.0 301.8 130.0 302.0C139.0 302.2 145.0 302.2 150.0 303.0C155.0 303.8 157.0 305.2 160.0 307.0C163.0 308.8 166.7 312.8 168.0 314.0" fill="none" stroke="#404040" stroke-width="13" stroke-opacity="0.50"/></g>
<g filter="url(#b22)"><path d="M96.0 301.5C101.7 301.6 121.0 301.8 130.0 302.0C139.0 302.2 145.0 302.2 150.0 303.0C155.0 303.8 157.0 305.2 160.0 307.0C163.0 308.8 166.7 312.8 168.0 314.0" fill="none" stroke="#000000" stroke-width="5.5"/></g>
<g filter="url(#b24)"><path d="M92.0 301.5C97.5 301.6 115.3 301.6 125.0 301.8C134.7 302.0 145.8 302.4 150.0 302.5" fill="none" stroke="#000000" stroke-width="7.5"/></g>
<g filter="url(#b50)"><path d="M571.0 301.5C565.0 301.6 544.3 301.8 535.0 302.0C525.7 302.2 520.0 302.2 515.0 303.0C510.0 303.8 508.0 305.2 505.0 307.0C502.0 308.8 498.3 312.8 497.0 314.0" fill="none" stroke="#404040" stroke-width="13" stroke-opacity="0.50"/></g>
<g filter="url(#b22)"><path d="M571.0 301.5C565.0 301.6 544.3 301.8 535.0 302.0C525.7 302.2 520.0 302.2 515.0 303.0C510.0 303.8 508.0 305.2 505.0 307.0C502.0 308.8 498.3 312.8 497.0 314.0" fill="none" stroke="#000000" stroke-width="5.5"/></g>
<g filter="url(#b24)"><path d="M575.0 301.5C570.0 301.6 554.5 301.6 545.0 301.8C535.5 302.0 522.5 302.4 518.0 302.5" fill="none" stroke="#000000" stroke-width="7"/></g>
<g filter="url(#b55)"><path d="M96.0 349.0C99.2 348.9 110.2 348.8 115.0 348.5C119.8 348.2 121.7 348.1 125.0 347.0C128.3 345.9 131.2 345.0 135.0 342.0C138.8 339.0 144.3 332.5 148.0 329.0C151.7 325.5 154.0 322.9 157.0 321.0C160.0 319.1 164.5 318.1 166.0 317.5" fill="none" stroke="#333333" stroke-width="14" stroke-opacity="0.50"/></g>
<g filter="url(#b23)"><path d="M96.0 349.0C99.2 348.9 110.2 348.8 115.0 348.5C119.8 348.2 121.7 348.1 125.0 347.0C128.3 345.9 131.2 345.0 135.0 342.0C138.8 339.0 144.3 332.5 148.0 329.0C151.7 325.5 154.0 322.9 157.0 321.0C160.0 319.1 164.5 318.1 166.0 317.5" fill="none" stroke="#050505" stroke-width="5"/></g>
<g filter="url(#b55)"><path d="M488.0 316.0C490.5 317.1 497.8 319.2 503.0 322.5C508.2 325.8 514.8 332.6 519.0 336.0C523.2 339.4 525.2 341.2 528.0 343.0C530.8 344.8 532.3 346.1 536.0 347.0C539.7 347.9 544.2 348.2 550.0 348.5C555.8 348.8 567.5 348.9 571.0 349.0" fill="none" stroke="#333333" stroke-width="14" stroke-opacity="0.50"/></g>
<g filter="url(#b23)"><path d="M488.0 316.0C490.5 317.1 497.8 319.2 503.0 322.5C508.2 325.8 514.8 332.6 519.0 336.0C523.2 339.4 525.2 341.2 528.0 343.0C530.8 344.8 532.3 346.1 536.0 347.0C539.7 347.9 544.2 348.2 550.0 348.5C555.8 348.8 567.5 348.9 571.0 349.0" fill="none" stroke="#050505" stroke-width="5"/></g>
<g filter="url(#b55)"><path d="M160.0 319.0C161.0 318.7 162.7 317.8 166.0 317.3C169.3 316.8 174.8 316.3 180.0 316.0C185.2 315.7 187.7 315.4 197.0 315.7C206.3 315.9 223.0 316.9 236.0 317.5C249.0 318.1 264.3 318.8 275.0 319.5C285.7 320.2 293.8 320.2 300.0 321.5C306.2 322.8 308.3 324.8 312.0 327.0C315.7 329.2 318.4 332.8 322.0 335.0C325.6 337.2 330.1 340.0 333.4 340.0C336.7 340.0 339.2 337.2 342.0 335.0C344.8 332.8 345.8 329.8 350.0 327.0C354.2 324.2 358.7 319.7 367.0 318.0C375.3 316.3 389.7 317.2 400.0 317.0C410.3 316.8 417.3 316.8 429.0 316.6C440.7 316.4 460.2 315.8 470.0 315.7C479.8 315.6 483.7 315.6 488.0 316.0C492.3 316.4 494.7 317.7 496.0 318.0" fill="none" stroke="#333333" stroke-width="17" stroke-opacity="0.55"/></g>
<g filter="url(#b24)"><path d="M160.0 319.0C161.0 318.7 162.7 317.8 166.0 317.3C169.3 316.8 174.8 316.3 180.0 316.0C185.2 315.7 187.7 315.4 197.0 315.7C206.3 315.9 223.0 316.9 236.0 317.5C249.0 318.1 264.3 318.8 275.0 319.5C285.7 320.2 293.8 320.2 300.0 321.5C306.2 322.8 308.3 324.8 312.0 327.0C315.7 329.2 318.4 332.8 322.0 335.0C325.6 337.2 330.1 340.0 333.4 340.0C336.7 340.0 339.2 337.2 342.0 335.0C344.8 332.8 345.8 329.8 350.0 327.0C354.2 324.2 358.7 319.7 367.0 318.0C375.3 316.3 389.7 317.2 400.0 317.0C410.3 316.8 417.3 316.8 429.0 316.6C440.7 316.4 460.2 315.8 470.0 315.7C479.8 315.6 483.7 315.6 488.0 316.0C492.3 316.4 494.7 317.7 496.0 318.0" fill="none" stroke="url(#hg1)" stroke-width="8.5"/></g>
<g filter="url(#b35)"><ellipse cx="333.0" cy="331.0" rx="14.0" ry="7.0" fill="#1f1f1f" fill-opacity="0.90"/></g>
<g filter="url(#b50)"><path d="M96.0 349.0C101.7 349.5 119.7 350.6 130.0 352.0C140.3 353.4 143.5 355.7 158.0 357.5C172.5 359.3 199.2 361.5 217.0 363.0C234.8 364.5 252.0 366.5 265.0 366.5C278.0 366.5 286.8 364.8 295.0 363.0C303.2 361.2 309.0 358.0 314.0 356.0C319.0 354.0 321.8 352.3 325.0 351.0C328.2 349.7 330.6 348.0 333.4 348.0C336.2 348.0 338.9 349.7 342.0 351.0C345.1 352.3 347.2 354.0 352.0 356.0C356.8 358.0 363.7 361.2 371.0 363.0C378.3 364.8 383.0 366.7 396.0 366.5C409.0 366.3 430.5 363.8 449.0 362.0C467.5 360.2 492.5 357.6 507.0 355.6C521.5 353.6 525.3 351.1 536.0 350.0C546.7 348.9 565.2 349.2 571.0 349.0" fill="none" stroke="#4c4c4c" stroke-width="13" stroke-opacity="0.45"/></g>
<g filter="url(#b25)"><path d="M96.0 349.0C101.7 349.5 119.7 350.6 130.0 352.0C140.3 353.4 143.5 355.7 158.0 357.5C172.5 359.3 199.2 361.5 217.0 363.0C234.8 364.5 252.0 366.5 265.0 366.5C278.0 366.5 286.8 364.8 295.0 363.0C303.2 361.2 309.0 358.0 314.0 356.0C319.0 354.0 321.8 352.3 325.0 351.0C328.2 349.7 330.6 348.0 333.4 348.0C336.2 348.0 338.9 349.7 342.0 351.0C345.1 352.3 347.2 354.0 352.0 356.0C356.8 358.0 363.7 361.2 371.0 363.0C378.3 364.8 383.0 366.7 396.0 366.5C409.0 366.3 430.5 363.8 449.0 362.0C467.5 360.2 492.5 357.6 507.0 355.6C521.5 353.6 525.3 351.1 536.0 350.0C546.7 348.9 565.2 349.2 571.0 349.0" fill="none" stroke="#262626" stroke-width="5.5" stroke-opacity="0.92"/></g>
<g filter="url(#b23)"><path d="M250.0 366.5C252.5 366.5 260.0 366.7 265.0 366.5C270.0 366.3 275.0 366.1 280.0 365.5C285.0 364.9 289.3 364.6 295.0 363.0C300.7 361.4 309.0 358.0 314.0 356.0C319.0 354.0 321.8 352.3 325.0 351.0C328.2 349.7 331.7 348.5 333.0 348.0" fill="none" stroke="url(#hg2)" stroke-width="4.5"/></g>
<g filter="url(#b19)"><path d="M147.0 547.7C148.3 546.4 152.3 542.5 155.0 539.9C157.7 537.3 160.3 534.7 163.0 532.1C165.7 529.5 168.3 526.9 171.0 524.3C173.7 521.7 176.3 519.1 179.0 516.5C181.7 514.0 184.3 511.4 187.0 508.8C189.7 506.2 192.3 503.7 195.0 501.1C197.7 498.5 200.3 496.0 203.0 493.4C205.7 490.8 208.3 488.3 211.0 485.7C213.7 483.2 216.3 480.7 219.0 478.1C221.7 475.6 224.3 473.1 227.0 470.6C229.7 468.1 232.3 465.6 235.0 463.1C237.7 460.6 240.3 458.1 243.0 455.6C245.7 453.2 248.3 450.7 251.0 448.3C253.7 445.9 256.3 443.4 259.0 441.1C261.7 438.7 264.3 436.3 267.0 434.0C269.7 431.7 272.3 429.4 275.0 427.1C277.7 424.9 280.3 422.6 283.0 420.5C285.7 418.3 288.3 416.2 291.0 414.2C293.7 412.2 296.3 410.3 299.0 408.5C301.7 406.6 304.3 404.9 307.0 403.4C309.7 401.8 312.3 400.4 315.0 399.2C317.7 398.1 321.7 396.8 323.0 396.4" fill="none" stroke="url(#hg3)" stroke-width="4.8"/></g>
<g filter="url(#b20)"><path d="M337.0 395.2C338.3 395.5 342.3 396.1 345.0 396.9C347.7 397.8 350.3 398.9 353.0 400.2C355.7 401.4 358.3 402.9 361.0 404.6C363.7 406.2 366.3 408.0 369.0 409.8C371.7 411.7 374.3 413.7 377.0 415.7C379.7 417.8 382.3 419.9 385.0 422.1C387.7 424.3 390.3 426.5 393.0 428.8C395.7 431.1 398.3 433.4 401.0 435.7C403.7 438.1 406.3 440.5 409.0 442.9C411.7 445.3 414.3 447.7 417.0 450.1C419.7 452.5 422.3 455.0 425.0 457.5C427.7 459.9 430.3 462.4 433.0 464.9C435.7 467.4 438.3 469.9 441.0 472.5C443.7 475.0 446.3 477.5 449.0 480.0C451.7 482.6 454.3 485.1 457.0 487.7C459.7 490.2 462.3 492.8 465.0 495.3C467.7 497.9 470.3 500.4 473.0 503.0C475.7 505.6 478.3 508.2 481.0 510.7C483.7 513.3 486.3 515.9 489.0 518.5C491.7 521.1 494.3 523.7 497.0 526.2C499.7 528.8 502.3 531.4 505.0 534.0C507.7 536.6 510.3 539.2 513.0 541.8C515.7 544.4 519.7 548.3 521.0 549.6" fill="none" stroke="url(#hg4)" stroke-width="4.6"/></g>
</g></g>
<path d="M458 409.3H410" stroke="#000" stroke-width="3.6" fill="none"/><path d="M391.5 409.3l19.5 -8.3v16.6z" fill="#000"/>
<g clip-path="url(#cfB)"><g filter="url(#fB)">
<rect x="768.4" y="49.599999999999994" width="503.2" height="507.4" fill="#0b0b0b"/>
<g filter="url(#b180)"><ellipse cx="1020.5" cy="92.0" rx="185.0" ry="40.0" fill="#303030" fill-opacity="0.95"/></g>
<g filter="url(#b160)"><ellipse cx="1020.5" cy="110.0" rx="48.0" ry="60.0" fill="#474747" fill-opacity="0.85"/></g>
<g filter="url(#b300)"><ellipse cx="1020.5" cy="520.0" rx="95.0" ry="120.0" fill="#1f1f1f" fill-opacity="0.90"/></g>
<g filter="url(#b140)"><ellipse cx="1020.5" cy="510.0" rx="38.0" ry="110.0" fill="#292929" fill-opacity="0.80"/></g>
<g filter="url(#b18)"><path d="M1001.5 395.0L1001.5 545.0" fill="none" stroke="#333333" stroke-width="3" stroke-opacity="0.50"/><path d="M1038.5 395.0L1038.5 545.0" fill="none" stroke="#333333" stroke-width="3" stroke-opacity="0.50"/></g>
<g filter="url(#b90)"><path d="M800.0 395.0C811.7 390.0 845.0 373.0 870.0 365.0C895.0 357.0 924.9 350.8 950.0 347.0C975.1 343.2 997.2 342.0 1020.5 342.0C1043.8 342.0 1065.1 343.2 1090.0 347.0C1114.9 350.8 1145.0 357.0 1170.0 365.0C1195.0 373.0 1228.3 390.0 1240.0 395.0" fill="none" stroke="#111111" stroke-width="26" stroke-opacity="0.80"/></g>
<g filter="url(#b60)"><ellipse cx="880.0" cy="103.0" rx="42.0" ry="7.0" fill="#0d0d0d" fill-opacity="0.90"/><ellipse cx="1161.0" cy="103.0" rx="42.0" ry="7.0" fill="#0d0d0d" fill-opacity="0.90"/></g>
<g filter="url(#b100)"><path d="M780.0 136.0C790.0 136.0 823.3 135.7 840.0 136.0C856.7 136.3 866.0 136.3 880.0 138.0C894.0 139.7 910.7 142.7 924.0 146.0C937.3 149.3 949.0 154.7 960.0 158.0C971.0 161.3 979.9 164.2 990.0 166.0C1000.1 167.8 1010.3 169.0 1020.5 169.0C1030.7 169.0 1040.9 167.8 1051.0 166.0C1061.1 164.2 1070.0 161.3 1081.0 158.0C1092.0 154.7 1103.7 149.3 1117.0 146.0C1130.3 142.7 1147.0 139.7 1161.0 138.0C1175.0 136.3 1184.3 136.3 1201.0 136.0C1217.7 135.7 1251.0 136.0 1261.0 136.0" fill="none" stroke="url(#hg5)" stroke-width="46"/><path d="M924.0 146.0C930.0 148.0 949.0 154.7 960.0 158.0C971.0 161.3 979.9 164.2 990.0 166.0C1000.1 167.8 1010.3 169.0 1020.5 169.0C1030.7 169.0 1040.9 167.8 1051.0 166.0C1061.1 164.2 1070.0 161.3 1081.0 158.0C1092.0 154.7 1111.0 148.0 1117.0 146.0" fill="none" stroke="#707070" stroke-width="26" stroke-opacity="0.90" stroke-linecap="round"/></g>
<g filter="url(#b80)"><path d="M790.0 276.0C795.3 273.3 812.0 264.2 822.0 260.0C832.0 255.8 838.7 254.2 850.0 251.0C861.3 247.8 873.7 244.8 890.0 241.0C906.3 237.2 931.3 231.7 948.0 228.0C964.7 224.3 977.9 220.8 990.0 219.0C1002.1 217.2 1010.3 217.0 1020.5 217.0C1030.7 217.0 1038.9 217.2 1051.0 219.0C1063.1 220.8 1076.3 224.3 1093.0 228.0C1109.7 231.7 1134.7 237.2 1151.0 241.0C1167.3 244.8 1179.7 247.8 1191.0 251.0C1202.3 254.2 1209.0 255.8 1219.0 260.0C1229.0 264.2 1245.7 273.3 1251.0 276.0" fill="none" stroke="url(#hg6)" stroke-width="33"/></g>
<g filter="url(#b70)"><path d="M948.0 228.0C955.0 226.5 977.9 220.8 990.0 219.0C1002.1 217.2 1010.3 217.0 1020.5 217.0C1030.7 217.0 1038.9 217.2 1051.0 219.0C1063.1 220.8 1086.0 226.5 1093.0 228.0" fill="none" stroke="#707070" stroke-width="17" stroke-opacity="0.90" stroke-linecap="round"/></g>
<g filter="url(#b60)"><ellipse cx="890.0" cy="198.0" rx="90.0" ry="5.0" fill="#050505" fill-opacity="0.90"/><ellipse cx="1151.0" cy="198.0" rx="90.0" ry="5.0" fill="#050505" fill-opacity="0.90"/></g>
<g filter="url(#b50)"><ellipse cx="1020.5" cy="201.0" rx="16.0" ry="8.0" fill="#6b6b6b" fill-opacity="0.90"/></g>
<g filter="url(#b120)"><ellipse cx="1020.5" cy="157.0" rx="125.0" ry="26.0" fill="#a3a3a3" fill-opacity="0.95"/></g>
<g filter="url(#b90)"><ellipse cx="1020.5" cy="164.0" rx="80.0" ry="22.0" fill="#c7c7c7" fill-opacity="0.95"/></g>
<g filter="url(#b70)"><ellipse cx="1020.5" cy="170.0" rx="38.0" ry="15.0" fill="#e0e0e0" fill-opacity="0.95"/></g>
<g filter="url(#b50)"><ellipse cx="1020.5" cy="172.0" rx="17.0" ry="8.0" fill="#f5f5f5" fill-opacity="0.95"/></g>
<g filter="url(#b60)"><ellipse cx="1020.5" cy="217.0" rx="50.0" ry="9.0" fill="#a3a3a3" fill-opacity="0.90"/></g>
<g filter="url(#b25)"><path d="M811.0 100.0L811.0 165.0" fill="none" stroke="#404040" stroke-width="3" stroke-opacity="0.40"/><path d="M1227.0 100.0L1227.0 165.0" fill="none" stroke="#404040" stroke-width="3" stroke-opacity="0.40"/></g>
</g></g>
<path d="M1215 371.3H1158" stroke="#fff" stroke-width="4.2" fill="none"/><path d="M1142.5 371.3l18 -8.7v17.4z" fill="#fff"/>
<g clip-path="url(#cfC)"><g filter="url(#fC)">
<rect x="1431.2" y="49.599999999999994" width="503.8" height="507.4" fill="#2e2e2e"/>
<g filter="url(#b220)"><path d="M1400.0 368.0L1451.2 337.0L1495.0 313.0L1540.0 288.0L1590.0 261.0L1640.0 242.0L1690.0 236.5L1727.0 242.0L1764.5 256.0L1802.0 271.0L1839.4 288.0L1877.0 308.0L1914.3 331.0L1960.0 360.0L1960.0 600.0L1400.0 600.0z" fill="#222222"/></g>
<g filter="url(#b300)"><ellipse cx="1720.0" cy="330.0" rx="140.0" ry="60.0" fill="#202020" fill-opacity="0.80"/></g>
<g filter="url(#b160)"><ellipse cx="1850.0" cy="150.0" rx="75.0" ry="30.0" fill="#242424" fill-opacity="0.90"/></g>
<g filter="url(#b200)"><ellipse cx="1470.0" cy="90.0" rx="60.0" ry="25.0" fill="#333333" fill-opacity="0.80"/></g>
<g filter="url(#b250)"><ellipse cx="1470.0" cy="520.0" rx="50.0" ry="60.0" fill="#2b2b2b" fill-opacity="0.80"/></g>
<g filter="url(#b180)"><path d="M1400.0 318.0C1408.5 312.8 1435.4 296.2 1451.2 287.0C1467.0 277.8 1480.2 271.2 1495.0 263.0C1509.8 254.8 1524.2 246.7 1540.0 238.0C1555.8 229.3 1573.3 218.7 1590.0 211.0C1606.7 203.3 1623.3 196.1 1640.0 192.0C1656.7 187.9 1675.5 186.5 1690.0 186.5C1704.5 186.5 1714.6 188.8 1727.0 192.0C1739.4 195.2 1752.0 201.2 1764.5 206.0C1777.0 210.8 1789.5 215.7 1802.0 221.0C1814.5 226.3 1826.9 231.8 1839.4 238.0C1851.9 244.2 1864.5 250.8 1877.0 258.0C1889.5 265.2 1900.5 272.3 1914.3 281.0C1928.1 289.7 1952.4 305.2 1960.0 310.0" fill="none" stroke="url(#hg7)" stroke-width="84" stroke-opacity="0.95"/></g>
<g filter="url(#b120)"><path d="M1400.0 318.0C1408.5 312.8 1435.4 296.2 1451.2 287.0C1467.0 277.8 1480.2 271.2 1495.0 263.0C1509.8 254.8 1524.2 246.7 1540.0 238.0C1555.8 229.3 1573.3 218.7 1590.0 211.0C1606.7 203.3 1623.3 196.1 1640.0 192.0C1656.7 187.9 1675.5 186.5 1690.0 186.5C1704.5 186.5 1714.6 188.8 1727.0 192.0C1739.4 195.2 1752.0 201.2 1764.5 206.0C1777.0 210.8 1789.5 215.7 1802.0 221.0C1814.5 226.3 1826.9 231.8 1839.4 238.0C1851.9 244.2 1864.5 250.8 1877.0 258.0C1889.5 265.2 1900.5 272.3 1914.3 281.0C1928.1 289.7 1952.4 305.2 1960.0 310.0" fill="none" stroke="url(#hg8)" stroke-width="50" stroke-opacity="0.95"/></g>
<g filter="url(#b85)"><path d="M1400.0 318.0C1408.5 312.8 1435.4 296.2 1451.2 287.0C1467.0 277.8 1480.2 271.2 1495.0 263.0C1509.8 254.8 1524.2 246.7 1540.0 238.0C1555.8 229.3 1573.3 218.7 1590.0 211.0C1606.7 203.3 1623.3 196.1 1640.0 192.0C1656.7 187.9 1675.5 186.5 1690.0 186.5C1704.5 186.5 1714.6 188.8 1727.0 192.0C1739.4 195.2 1752.0 201.2 1764.5 206.0C1777.0 210.8 1789.5 215.7 1802.0 221.0C1814.5 226.3 1826.9 231.8 1839.4 238.0C1851.9 244.2 1864.5 250.8 1877.0 258.0C1889.5 265.2 1900.5 272.3 1914.3 281.0C1928.1 289.7 1952.4 305.2 1960.0 310.0" fill="none" stroke="url(#hg9)" stroke-width="31" stroke-opacity="0.95"/></g>
</g></g>
<path d="M127.0 686.6C131.3 700.3 144.2 743.0 152.8 769.0C161.4 795.0 170.0 819.7 178.6 842.6C187.2 865.5 195.8 886.8 204.4 906.3C213.0 925.7 221.6 943.0 230.2 959.3C238.8 975.6 247.4 991.2 256.0 1004.2C264.6 1017.2 273.2 1027.8 281.9 1037.3C290.5 1046.8 299.1 1054.6 307.7 1061.0C316.3 1067.5 324.9 1072.7 333.5 1076.0C342.1 1079.3 350.7 1081.0 359.3 1081.0C367.9 1081.0 376.5 1079.3 385.1 1076.0C393.7 1072.7 402.3 1067.5 410.9 1061.0C419.5 1054.6 428.1 1046.8 436.7 1037.3C445.4 1027.8 454.0 1017.2 462.6 1004.2C471.2 991.2 479.8 975.6 488.4 959.3C497.0 943.0 505.6 925.7 514.2 906.3C522.8 886.8 531.4 865.5 540.0 842.6C548.6 819.7 557.2 795.0 565.8 769.0C574.4 743.0 587.3 700.3 591.6 686.6" fill="none" stroke="#585858" stroke-width="3.6"/>
<path d="M118.5 678.1h17v17h-17zM144.3 760.5h17v17h-17zM170.1 834.1h17v17h-17zM195.9 897.8h17v17h-17zM221.7 950.8h17v17h-17zM247.5 995.7h17v17h-17zM273.4 1028.8h17v17h-17zM299.2 1052.5h17v17h-17zM325.0 1067.5h17v17h-17zM376.6 1067.5h17v17h-17zM402.4 1052.5h17v17h-17zM428.2 1028.8h17v17h-17zM454.1 995.7h17v17h-17zM479.9 950.8h17v17h-17zM505.7 897.8h17v17h-17zM531.5 834.1h17v17h-17zM557.3 760.5h17v17h-17zM583.1 678.1h17v17h-17z" fill="#585858"/>
<rect x="101.7" y="648.0" width="515.6" height="466.9" fill="none" stroke="#000" stroke-width="3.8"/>
<path d="M152.8 1114.9v-11.5M152.8 648.0v11.5M256.0 1114.9v-11.5M256.0 648.0v11.5M359.3 1114.9v-11.5M359.3 648.0v11.5M462.6 1114.9v-11.5M462.6 648.0v11.5M565.8 1114.9v-11.5M565.8 648.0v11.5M204.4 1114.9v-6M204.4 648.0v6M307.7 1114.9v-6M307.7 648.0v6M410.9 1114.9v-6M410.9 648.0v6M514.2 1114.9v-6M514.2 648.0v6M101.7 1084.1h11.5M617.3 1084.1h-11.5M101.7 959.3h11.5M617.3 959.3h-11.5M101.7 834.5h11.5M617.3 834.5h-11.5M101.7 709.7h11.5M617.3 709.7h-11.5M101.7 1021.7h6M617.3 1021.7h-6M101.7 896.9h6M617.3 896.9h-6M101.7 772.1h6M617.3 772.1h-6" stroke="#000" stroke-width="3.8" fill="none"/>
<g clip-path="url(#semC)"><rect x="224.2" y="653.0" width="298.7" height="182.5" fill="#676767"/><g filter="url(#semB)"><ellipse cx="330" cy="745" rx="60" ry="14" fill="url(#semD)"/><ellipse cx="425" cy="745" rx="50" ry="14" fill="url(#semD)"/><ellipse cx="250" cy="745" rx="30" ry="12" fill="url(#semD)"/><ellipse cx="505" cy="745" rx="30" ry="12" fill="url(#semD)"/><ellipse cx="330" cy="695" rx="10" ry="30" fill="url(#semD)"/><ellipse cx="427" cy="695" rx="10" ry="30" fill="url(#semD)"/><ellipse cx="330" cy="792" rx="10" ry="30" fill="url(#semD)"/><ellipse cx="427" cy="792" rx="10" ry="30" fill="url(#semD)"/><ellipse cx="240" cy="695" rx="9" ry="34" fill="url(#semD)"/><ellipse cx="337" cy="695" rx="9" ry="34" fill="url(#semD)"/><ellipse cx="433" cy="695" rx="9" ry="34" fill="url(#semD)"/><ellipse cx="240" cy="792" rx="9" ry="34" fill="url(#semD)"/><ellipse cx="337" cy="792" rx="9" ry="34" fill="url(#semD)"/><ellipse cx="433" cy="792" rx="9" ry="34" fill="url(#semD)"/><circle cx="232" cy="663" r="6.5" fill="url(#semS)"/><circle cx="245" cy="668" r="7.5" fill="url(#semS)"/><circle cx="316" cy="672" r="8.5" fill="url(#semS)"/><circle cx="320" cy="683" r="8.5" fill="url(#semS)"/><circle cx="299" cy="737" r="10.5" fill="url(#semS)"/><circle cx="313" cy="744" r="7.5" fill="url(#semS)"/><circle cx="331" cy="725" r="8.5" fill="url(#semS)"/><circle cx="333" cy="742" r="8.5" fill="url(#semS)"/><circle cx="322" cy="751" r="7.5" fill="url(#semS)"/><circle cx="349" cy="731" r="7.5" fill="url(#semS)"/><circle cx="358" cy="753" r="7.5" fill="url(#semS)"/><circle cx="347" cy="703" r="7.5" fill="url(#semS)"/><circle cx="340" cy="726" r="6.5" fill="url(#semS)"/><circle cx="424" cy="666" r="7.5" fill="url(#semS)"/><circle cx="416" cy="721" r="9.5" fill="url(#semS)"/><circle cx="399" cy="744" r="8.5" fill="url(#semS)"/><circle cx="433" cy="753" r="9.5" fill="url(#semS)"/><circle cx="430" cy="709" r="6.5" fill="url(#semS)"/><circle cx="507" cy="667" r="8.5" fill="url(#semS)"/><circle cx="512" cy="690" r="7.5" fill="url(#semS)"/><circle cx="489" cy="735" r="7.5" fill="url(#semS)"/><circle cx="519" cy="757" r="7.5" fill="url(#semS)"/><circle cx="228" cy="757" r="7.5" fill="url(#semS)"/><circle cx="317" cy="775" r="9.5" fill="url(#semS)"/><circle cx="416" cy="784" r="7.5" fill="url(#semS)"/><circle cx="413" cy="818" r="7.5" fill="url(#semS)"/><circle cx="325" cy="831" r="8.5" fill="url(#semS)"/><circle cx="508" cy="806" r="7.5" fill="url(#semS)"/><circle cx="519" cy="826" r="6.5" fill="url(#semS)"/><circle cx="241" cy="828" r="6.5" fill="url(#semS)"/><circle cx="372" cy="833" r="7.5" fill="url(#semS)"/><circle cx="467" cy="834" r="6.5" fill="url(#semS)"/><circle cx="232" cy="715" r="6.5" fill="url(#semS)"/><circle cx="505" cy="715" r="6.5" fill="url(#semS)"/><circle cx="455" cy="745" r="6.5" fill="url(#semS)"/><circle cx="276" cy="745" r="6.5" fill="url(#semS)"/><circle cx="303.4" cy="693.2" r="11.2" fill="#9a9a9a"/><circle cx="289.3" cy="719.5" r="10.9" fill="#9a9a9a"/><circle cx="303.4" cy="697.0" r="11.3" fill="#9a9a9a"/><circle cx="295.3" cy="677.5" r="11.0" fill="#9a9a9a"/><circle cx="301.2" cy="704.9" r="12.2" fill="#9a9a9a"/><circle cx="270.4" cy="719.6" r="10.2" fill="#9a9a9a"/><ellipse cx="280.5" cy="696.5" rx="31.8" ry="33.2" fill="url(#semP)"/><circle cx="295.3" cy="706.0" r="7.4" fill="url(#semL)"/><circle cx="300.5" cy="701.9" r="8.4" fill="url(#semL)"/><circle cx="272.5" cy="684.9" r="5.6" fill="url(#semL)"/><circle cx="293.0" cy="697.7" r="5.2" fill="url(#semL)"/><circle cx="283.2" cy="703.3" r="5.1" fill="url(#semL)"/><circle cx="269.9" cy="699.0" r="7.9" fill="url(#semL)"/><circle cx="266.1" cy="694.8" r="6.7" fill="url(#semL)"/><circle cx="274.6" cy="686.9" r="6.0" fill="url(#semL)"/><circle cx="301.4" cy="696.1" r="7.9" fill="url(#semL)"/><circle cx="278.2" cy="688.1" r="5.8" fill="url(#semL)"/><circle cx="279.5" cy="700.6" r="7.7" fill="url(#semL)"/><circle cx="265.7" cy="707.2" r="6.4" fill="url(#semL)"/><circle cx="383.2" cy="718.8" r="12.4" fill="#9a9a9a"/><circle cx="381.2" cy="671.0" r="9.8" fill="#9a9a9a"/><circle cx="386.6" cy="719.1" r="10.9" fill="#9a9a9a"/><circle cx="382.3" cy="721.0" r="10.6" fill="#9a9a9a"/><circle cx="385.4" cy="674.0" r="11.5" fill="#9a9a9a"/><circle cx="359.8" cy="678.5" r="10.1" fill="#9a9a9a"/><ellipse cx="377.0" cy="696.5" rx="31.8" ry="33.2" fill="url(#semP)"/><circle cx="384.7" cy="701.2" r="8.4" fill="url(#semL)"/><circle cx="377.2" cy="691.4" r="5.9" fill="url(#semL)"/><circle cx="380.3" cy="698.9" r="7.8" fill="url(#semL)"/><circle cx="382.7" cy="708.2" r="6.6" fill="url(#semL)"/><circle cx="382.9" cy="711.6" r="5.5" fill="url(#semL)"/><circle cx="373.8" cy="692.5" r="6.5" fill="url(#semL)"/><circle cx="378.8" cy="704.1" r="8.4" fill="url(#semL)"/><circle cx="379.8" cy="688.5" r="8.1" fill="url(#semL)"/><circle cx="379.5" cy="706.3" r="8.0" fill="url(#semL)"/><circle cx="374.0" cy="692.8" r="8.5" fill="url(#semL)"/><circle cx="378.8" cy="703.9" r="7.7" fill="url(#semL)"/><circle cx="373.0" cy="703.8" r="5.3" fill="url(#semL)"/><circle cx="482.2" cy="674.3" r="11.3" fill="#9a9a9a"/><circle cx="490.0" cy="680.5" r="11.4" fill="#9a9a9a"/><circle cx="494.8" cy="687.8" r="10.8" fill="#9a9a9a"/><circle cx="479.4" cy="720.3" r="10.9" fill="#9a9a9a"/><circle cx="494.2" cy="701.3" r="12.5" fill="#9a9a9a"/><circle cx="457.3" cy="716.8" r="9.6" fill="#9a9a9a"/><ellipse cx="472.8" cy="696.5" rx="31.8" ry="33.2" fill="url(#semP)"/><circle cx="487.6" cy="686.8" r="5.9" fill="url(#semL)"/><circle cx="478.8" cy="711.7" r="8.3" fill="url(#semL)"/><circle cx="479.4" cy="715.5" r="8.1" fill="url(#semL)"/><circle cx="464.4" cy="690.1" r="5.4" fill="url(#semL)"/><circle cx="492.5" cy="701.4" r="5.8" fill="url(#semL)"/><circle cx="470.6" cy="689.2" r="7.9" fill="url(#semL)"/><circle cx="466.0" cy="691.8" r="5.6" fill="url(#semL)"/><circle cx="472.0" cy="692.3" r="5.8" fill="url(#semL)"/><circle cx="455.7" cy="689.8" r="7.2" fill="url(#semL)"/><circle cx="469.1" cy="715.7" r="5.7" fill="url(#semL)"/><circle cx="480.6" cy="697.3" r="6.6" fill="url(#semL)"/><circle cx="478.5" cy="698.8" r="6.3" fill="url(#semL)"/><circle cx="304.8" cy="797.3" r="9.5" fill="#9a9a9a"/><circle cx="300.6" cy="783.3" r="12.6" fill="#9a9a9a"/><circle cx="285.6" cy="815.5" r="11.6" fill="#9a9a9a"/><circle cx="300.2" cy="804.4" r="11.3" fill="#9a9a9a"/><circle cx="293.9" cy="769.6" r="9.1" fill="#9a9a9a"/><circle cx="275.8" cy="814.5" r="12.6" fill="#9a9a9a"/><ellipse cx="280.5" cy="792.0" rx="31.8" ry="33.2" fill="url(#semP)"/><circle cx="274.3" cy="772.6" r="5.1" fill="url(#semL)"/><circle cx="272.8" cy="783.2" r="7.6" fill="url(#semL)"/><circle cx="271.7" cy="811.1" r="5.3" fill="url(#semL)"/><circle cx="264.9" cy="787.4" r="8.2" fill="url(#semL)"/><circle cx="279.2" cy="776.4" r="7.8" fill="url(#semL)"/><circle cx="288.5" cy="787.2" r="7.4" fill="url(#semL)"/><circle cx="295.6" cy="781.1" r="6.5" fill="url(#semL)"/><circle cx="285.1" cy="774.0" r="7.0" fill="url(#semL)"/><circle cx="273.5" cy="785.0" r="7.0" fill="url(#semL)"/><circle cx="277.1" cy="789.2" r="7.2" fill="url(#semL)"/><circle cx="299.3" cy="791.2" r="7.5" fill="url(#semL)"/><circle cx="268.1" cy="802.5" r="7.0" fill="url(#semL)"/><circle cx="398.6" cy="788.1" r="12.4" fill="#9a9a9a"/><circle cx="385.8" cy="770.2" r="12.0" fill="#9a9a9a"/><circle cx="382.8" cy="768.5" r="11.4" fill="#9a9a9a"/><circle cx="401.3" cy="790.6" r="9.9" fill="#9a9a9a"/><circle cx="396.8" cy="805.0" r="11.0" fill="#9a9a9a"/><circle cx="356.5" cy="784.8" r="12.7" fill="#9a9a9a"/><ellipse cx="377.0" cy="792.0" rx="31.8" ry="33.2" fill="url(#semP)"/><circle cx="376.9" cy="795.2" r="6.1" fill="url(#semL)"/><circle cx="374.1" cy="786.0" r="5.6" fill="url(#semL)"/><circle cx="389.3" cy="783.7" r="6.5" fill="url(#semL)"/><circle cx="383.9" cy="786.4" r="7.3" fill="url(#semL)"/><circle cx="380.4" cy="802.2" r="7.8" fill="url(#semL)"/><circle cx="393.1" cy="782.3" r="6.3" fill="url(#semL)"/><circle cx="369.5" cy="787.7" r="5.5" fill="url(#semL)"/><circle cx="358.9" cy="792.4" r="8.0" fill="url(#semL)"/><circle cx="372.1" cy="772.5" r="6.0" fill="url(#semL)"/><circle cx="382.4" cy="801.7" r="6.0" fill="url(#semL)"/><circle cx="379.3" cy="802.2" r="7.2" fill="url(#semL)"/><circle cx="368.3" cy="792.3" r="7.9" fill="url(#semL)"/><circle cx="478.0" cy="816.3" r="10.8" fill="#9a9a9a"/><circle cx="482.1" cy="767.3" r="9.1" fill="#9a9a9a"/><circle cx="485.4" cy="814.9" r="9.2" fill="#9a9a9a"/><circle cx="492.0" cy="805.5" r="11.3" fill="#9a9a9a"/><circle cx="491.8" cy="780.0" r="12.2" fill="#9a9a9a"/><circle cx="467.3" cy="817.5" r="9.5" fill="#9a9a9a"/><ellipse cx="472.8" cy="792.0" rx="31.8" ry="33.2" fill="url(#semP)"/><circle cx="469.5" cy="793.0" r="7.9" fill="url(#semL)"/><circle cx="473.2" cy="797.5" r="5.2" fill="url(#semL)"/><circle cx="465.2" cy="784.0" r="7.2" fill="url(#semL)"/><circle cx="462.9" cy="777.5" r="8.4" fill="url(#semL)"/><circle cx="470.2" cy="786.0" r="6.7" fill="url(#semL)"/><circle cx="474.2" cy="794.9" r="6.7" fill="url(#semL)"/><circle cx="471.4" cy="785.9" r="6.0" fill="url(#semL)"/><circle cx="464.0" cy="804.8" r="6.8" fill="url(#semL)"/><circle cx="460.3" cy="781.1" r="6.4" fill="url(#semL)"/><circle cx="477.8" cy="773.3" r="5.3" fill="url(#semL)"/><circle cx="487.4" cy="785.4" r="5.5" fill="url(#semL)"/><circle cx="459.1" cy="796.1" r="8.2" fill="url(#semL)"/></g><path d="M256.0 666.1A32 32 0 0 0 261.4 728.2" fill="none" stroke="#fff" stroke-width="2.3" stroke-dasharray="9.5 7.5" stroke-dashoffset="13"/><path d="M256.6 669.9A37 37 0 0 0 257.1 723.6" fill="none" stroke="#fff" stroke-width="2.3" stroke-dasharray="9.5 7.5" stroke-dashoffset="12"/><path d="M253.5 665.7L263.3 662.5L257.5 669.9" fill="none" stroke="#fff" stroke-width="2.2"/><path d="M259.5 723.5L268.7 729.2L257.9 728.4z" fill="#fff" stroke="#fff" stroke-width="1"/><path d="M352.5 666.1A32 32 0 0 0 357.9 728.2" fill="none" stroke="#fff" stroke-width="2.3" stroke-dasharray="9.5 7.5" stroke-dashoffset="13"/><path d="M353.1 669.9A37 37 0 0 0 353.6 723.6" fill="none" stroke="#fff" stroke-width="2.3" stroke-dasharray="9.5 7.5" stroke-dashoffset="12"/><path d="M350.0 665.7L359.8 662.5L354.0 669.9" fill="none" stroke="#fff" stroke-width="2.2"/><path d="M356.0 723.5L365.2 729.2L354.4 728.4z" fill="#fff" stroke="#fff" stroke-width="1"/><path d="M448.3 666.1A32 32 0 0 0 453.7 728.2" fill="none" stroke="#fff" stroke-width="2.3" stroke-dasharray="9.5 7.5" stroke-dashoffset="13"/><path d="M448.9 669.9A37 37 0 0 0 449.4 723.6" fill="none" stroke="#fff" stroke-width="2.3" stroke-dasharray="9.5 7.5" stroke-dashoffset="12"/><path d="M445.8 665.7L455.6 662.5L449.8 669.9" fill="none" stroke="#fff" stroke-width="2.2"/><path d="M451.8 723.5L461.0 729.2L450.2 728.4z" fill="#fff" stroke="#fff" stroke-width="1"/><path d="M256.0 761.6A32 32 0 0 0 261.4 823.7" fill="none" stroke="#fff" stroke-width="2.3" stroke-dasharray="9.5 7.5" stroke-dashoffset="13"/><path d="M256.6 765.4A37 37 0 0 0 257.1 819.1" fill="none" stroke="#fff" stroke-width="2.3" stroke-dasharray="9.5 7.5" stroke-dashoffset="12"/><path d="M253.5 761.2L263.3 758.0L257.5 765.4" fill="none" stroke="#fff" stroke-width="2.2"/><path d="M259.5 819.0L268.7 824.7L257.9 823.9z" fill="#fff" stroke="#fff" stroke-width="1"/><path d="M352.5 761.6A32 32 0 0 0 357.9 823.7" fill="none" stroke="#fff" stroke-width="2.3" stroke-dasharray="9.5 7.5" stroke-dashoffset="13"/><path d="M353.1 765.4A37 37 0 0 0 353.6 819.1" fill="none" stroke="#fff" stroke-width="2.3" stroke-dasharray="9.5 7.5" stroke-dashoffset="12"/><path d="M350.0 761.2L359.8 758.0L354.0 765.4" fill="none" stroke="#fff" stroke-width="2.2"/><path d="M356.0 819.0L365.2 824.7L354.4 823.9z" fill="#fff" stroke="#fff" stroke-width="1"/><path d="M448.3 761.6A32 32 0 0 0 453.7 823.7" fill="none" stroke="#fff" stroke-width="2.3" stroke-dasharray="9.5 7.5" stroke-dashoffset="13"/><path d="M448.9 765.4A37 37 0 0 0 449.4 819.1" fill="none" stroke="#fff" stroke-width="2.3" stroke-dasharray="9.5 7.5" stroke-dashoffset="12"/><path d="M445.8 761.2L455.6 758.0L449.8 765.4" fill="none" stroke="#fff" stroke-width="2.2"/><path d="M451.8 819.0L461.0 824.7L450.2 823.9z" fill="#fff" stroke="#fff" stroke-width="1"/></g>
<text class="s" x="152.8" y="1151.6" text-anchor="middle">-4</text>
<text class="s" x="256.0" y="1151.6" text-anchor="middle">-2</text>
<text class="s" x="359.3" y="1151.6" text-anchor="middle">0</text>
<text class="s" x="462.6" y="1151.6" text-anchor="middle">2</text>
<text class="s" x="565.8" y="1151.6" text-anchor="middle">4</text>
<text class="s" x="89.7" y="1093.5" text-anchor="end">710</text>
<text class="s" x="89.7" y="968.7" text-anchor="end">712</text>
<text class="s" x="89.7" y="843.9" text-anchor="end">714</text>
<text class="s" x="89.7" y="719.1" text-anchor="end">716</text>
<text class="s" x="359.4" y="1189.3" text-anchor="middle">Incident angle (deg)</text>
<text class="s" transform="translate(23.6,880.0) rotate(-90)" text-anchor="middle">Resonant wavelength (nm)</text>
<path d="M814.1 970.8C818.4 973.8 831.3 983.0 839.9 988.6C848.5 994.3 857.1 999.5 865.7 1004.8C874.3 1010.1 882.9 1015.5 891.4 1020.3C900.0 1025.2 908.6 1029.2 917.2 1034.0C925.8 1038.8 934.4 1044.7 943.0 1049.3C951.6 1053.8 960.2 1058.0 968.8 1061.4C977.4 1064.7 986.0 1067.3 994.5 1069.6C1003.1 1071.9 1011.7 1073.9 1020.3 1075.3C1028.9 1076.6 1037.5 1077.8 1046.1 1077.8C1054.7 1077.8 1063.3 1076.6 1071.9 1075.3C1080.5 1073.9 1089.1 1071.9 1097.6 1069.6C1106.2 1067.3 1114.8 1064.7 1123.4 1061.4C1132.0 1058.0 1140.6 1053.8 1149.2 1049.3C1157.8 1044.7 1166.4 1038.8 1175.0 1034.0C1183.6 1029.2 1192.2 1025.2 1200.8 1020.3C1209.3 1015.5 1217.9 1010.1 1226.5 1004.8C1235.1 999.5 1243.7 994.3 1252.3 988.6C1260.9 983.0 1273.8 973.8 1278.1 970.8" fill="none" stroke="#a07cbc" stroke-width="3.6"/>
<path fill="#a07cbc" d="M804.6 970.8a9.5 9.5 0 1 0 19.0 0a9.5 9.5 0 1 0 -19.0 0zM830.4 988.6a9.5 9.5 0 1 0 19.0 0a9.5 9.5 0 1 0 -19.0 0zM856.2 1004.8a9.5 9.5 0 1 0 19.0 0a9.5 9.5 0 1 0 -19.0 0zM881.9 1020.3a9.5 9.5 0 1 0 19.0 0a9.5 9.5 0 1 0 -19.0 0zM907.7 1034.0a9.5 9.5 0 1 0 19.0 0a9.5 9.5 0 1 0 -19.0 0zM933.5 1049.3a9.5 9.5 0 1 0 19.0 0a9.5 9.5 0 1 0 -19.0 0zM959.3 1061.4a9.5 9.5 0 1 0 19.0 0a9.5 9.5 0 1 0 -19.0 0zM985.0 1069.6a9.5 9.5 0 1 0 19.0 0a9.5 9.5 0 1 0 -19.0 0zM1010.8 1075.3a9.5 9.5 0 1 0 19.0 0a9.5 9.5 0 1 0 -19.0 0zM1062.4 1075.3a9.5 9.5 0 1 0 19.0 0a9.5 9.5 0 1 0 -19.0 0zM1088.1 1069.6a9.5 9.5 0 1 0 19.0 0a9.5 9.5 0 1 0 -19.0 0zM1113.9 1061.4a9.5 9.5 0 1 0 19.0 0a9.5 9.5 0 1 0 -19.0 0zM1139.7 1049.3a9.5 9.5 0 1 0 19.0 0a9.5 9.5 0 1 0 -19.0 0zM1165.5 1034.0a9.5 9.5 0 1 0 19.0 0a9.5 9.5 0 1 0 -19.0 0zM1191.2 1020.3a9.5 9.5 0 1 0 19.0 0a9.5 9.5 0 1 0 -19.0 0zM1217.0 1004.8a9.5 9.5 0 1 0 19.0 0a9.5 9.5 0 1 0 -19.0 0zM1242.8 988.6a9.5 9.5 0 1 0 19.0 0a9.5 9.5 0 1 0 -19.0 0zM1268.6 970.8a9.5 9.5 0 1 0 19.0 0a9.5 9.5 0 1 0 -19.0 0z"/>
<path d="M814.1 894.5C818.4 898.7 831.3 911.5 839.9 919.8C848.5 928.1 857.1 936.1 865.7 944.4C874.3 952.7 882.9 961.7 891.4 969.7C900.0 977.8 908.6 985.1 917.2 992.7C925.8 1000.4 934.4 1008.3 943.0 1015.5C951.6 1022.8 960.2 1029.9 968.8 1036.1C977.4 1042.2 986.0 1047.2 994.5 1052.2C1003.1 1057.3 1011.7 1062.1 1020.3 1066.6C1028.9 1071.1 1037.5 1076.0 1046.1 1079.4C1054.7 1082.8 1063.3 1084.8 1071.9 1086.9C1080.5 1089.0 1089.1 1090.9 1097.6 1091.9C1106.2 1092.9 1114.8 1093.3 1123.4 1093.1C1132.0 1092.8 1140.6 1092.3 1149.2 1090.5C1157.8 1088.8 1166.4 1086.1 1175.0 1082.8C1183.6 1079.5 1192.2 1075.3 1200.8 1070.5C1209.3 1065.7 1217.9 1059.8 1226.5 1053.8C1235.1 1047.8 1243.7 1041.3 1252.3 1034.5C1260.9 1027.7 1273.8 1016.6 1278.1 1013.0" fill="none" stroke="#ee4044" stroke-width="3.6"/>
<path fill="#ee4044" d="M814.1 907.7l11.5 -19.9h-23.0zM839.9 933.0l11.5 -19.9h-23.0zM865.7 957.6l11.5 -19.9h-23.0zM891.4 982.9l11.5 -19.9h-23.0zM917.2 1005.9l11.5 -19.9h-23.0zM943.0 1028.7l11.5 -19.9h-23.0zM968.8 1049.3l11.5 -19.9h-23.0zM994.5 1065.4l11.5 -19.9h-23.0zM1020.3 1079.8l11.5 -19.9h-23.0zM1071.9 1100.1l11.5 -19.9h-23.0zM1097.6 1105.1l11.5 -19.9h-23.0zM1123.4 1106.3l11.5 -19.9h-23.0zM1149.2 1103.7l11.5 -19.9h-23.0zM1175.0 1096.0l11.5 -19.9h-23.0zM1200.8 1083.7l11.5 -19.9h-23.0zM1226.5 1067.0l11.5 -19.9h-23.0zM1252.3 1047.7l11.5 -19.9h-23.0zM1278.1 1026.2l11.5 -19.9h-23.0z"/>
<path d="M814.1 1046.8C818.4 1048.3 831.3 1053.1 839.9 1055.9C848.5 1058.7 857.1 1061.1 865.7 1063.4C874.3 1065.7 882.9 1067.9 891.4 1069.6C900.0 1071.3 908.6 1071.5 917.2 1073.7C925.8 1075.8 934.4 1079.8 943.0 1082.3C951.6 1084.9 960.2 1087.7 968.8 1089.0C977.4 1090.2 986.0 1090.2 994.5 1090.1C1003.1 1089.9 1011.7 1089.8 1020.3 1088.0C1028.9 1086.3 1037.5 1082.8 1046.1 1079.4C1054.7 1076.0 1063.3 1072.5 1071.9 1067.5C1080.5 1062.5 1089.1 1055.9 1097.6 1049.3C1106.2 1042.7 1114.8 1034.8 1123.4 1027.8C1132.0 1020.9 1140.6 1014.8 1149.2 1007.6C1157.8 1000.3 1166.4 990.7 1175.0 984.5C1183.6 978.3 1192.2 975.2 1200.8 970.4C1209.3 965.6 1217.9 960.0 1226.5 955.6C1235.1 951.1 1243.7 947.8 1252.3 943.7C1260.9 939.6 1273.8 933.3 1278.1 931.2" fill="none" stroke="#f26c21" stroke-width="3.6"/>
<path fill="#f26c21" d="M814.1 1034.6l12.2 12.2l-12.2 12.2l-12.2 -12.2zM839.9 1043.7l12.2 12.2l-12.2 12.2l-12.2 -12.2zM865.7 1051.2l12.2 12.2l-12.2 12.2l-12.2 -12.2zM891.4 1057.4l12.2 12.2l-12.2 12.2l-12.2 -12.2zM917.2 1061.5l12.2 12.2l-12.2 12.2l-12.2 -12.2zM943.0 1070.1l12.2 12.2l-12.2 12.2l-12.2 -12.2zM968.8 1076.8l12.2 12.2l-12.2 12.2l-12.2 -12.2zM994.5 1077.9l12.2 12.2l-12.2 12.2l-12.2 -12.2zM1020.3 1075.8l12.2 12.2l-12.2 12.2l-12.2 -12.2zM1071.9 1055.3l12.2 12.2l-12.2 12.2l-12.2 -12.2zM1097.6 1037.1l12.2 12.2l-12.2 12.2l-12.2 -12.2zM1123.4 1015.6l12.2 12.2l-12.2 12.2l-12.2 -12.2zM1149.2 995.4l12.2 12.2l-12.2 12.2l-12.2 -12.2zM1175.0 972.3l12.2 12.2l-12.2 12.2l-12.2 -12.2zM1200.8 958.2l12.2 12.2l-12.2 12.2l-12.2 -12.2zM1226.5 943.4l12.2 12.2l-12.2 12.2l-12.2 -12.2zM1252.3 931.5l12.2 12.2l-12.2 12.2l-12.2 -12.2zM1278.1 919.0l12.2 12.2l-12.2 12.2l-12.2 -12.2z"/>
<path d="M814.1 820.1C818.4 820.3 831.3 821.9 839.9 821.1C848.5 820.2 857.1 817.4 865.7 815.1C874.3 812.8 882.9 810.2 891.4 807.4C900.0 804.6 908.6 800.4 917.2 798.3C925.8 796.1 934.4 796.0 943.0 794.6C951.6 793.2 960.2 790.9 968.8 789.6C977.4 788.3 986.0 787.0 994.5 786.9C1003.1 786.7 1011.7 788.4 1020.3 788.4C1028.9 788.4 1037.5 786.9 1046.1 786.9C1054.7 786.9 1063.3 788.4 1071.9 788.4C1080.5 788.4 1089.1 786.7 1097.6 786.9C1106.2 787.0 1114.8 788.3 1123.4 789.6C1132.0 790.9 1140.6 793.2 1149.2 794.6C1157.8 796.0 1166.4 796.1 1175.0 798.3C1183.6 800.4 1192.2 804.6 1200.8 807.4C1209.3 810.2 1217.9 812.8 1226.5 815.1C1235.1 817.4 1243.7 820.2 1252.3 821.1C1260.9 821.9 1273.8 820.3 1278.1 820.1" fill="none" stroke="#3b75bd" stroke-width="3.6"/>
<path fill="#3b75bd" d="M814.1 806.9l11.5 19.9h-23.0zM839.9 807.9l11.5 19.9h-23.0zM865.7 801.9l11.5 19.9h-23.0zM891.4 794.2l11.5 19.9h-23.0zM917.2 785.1l11.5 19.9h-23.0zM943.0 781.4l11.5 19.9h-23.0zM968.8 776.4l11.5 19.9h-23.0zM994.5 773.7l11.5 19.9h-23.0zM1020.3 775.2l11.5 19.9h-23.0zM1071.9 775.2l11.5 19.9h-23.0zM1097.6 773.7l11.5 19.9h-23.0zM1123.4 776.4l11.5 19.9h-23.0zM1149.2 781.4l11.5 19.9h-23.0zM1175.0 785.1l11.5 19.9h-23.0zM1200.8 794.2l11.5 19.9h-23.0zM1226.5 801.9l11.5 19.9h-23.0zM1252.3 807.9l11.5 19.9h-23.0zM1278.1 806.9l11.5 19.9h-23.0z"/>
<path d="M814.1 688.4C818.4 691.5 831.3 702.4 839.9 707.3C848.5 712.2 857.1 714.9 865.7 717.8C874.3 720.6 882.9 722.3 891.4 724.4C900.0 726.4 908.6 727.2 917.2 730.1C925.8 733.0 934.4 738.6 943.0 741.7C951.6 744.8 960.2 746.5 968.8 748.8C977.4 751.1 986.0 753.7 994.5 755.4C1003.1 757.0 1011.7 757.9 1020.3 758.6C1028.9 759.4 1037.5 759.7 1046.1 759.7C1054.7 759.7 1063.3 759.4 1071.9 758.6C1080.5 757.9 1089.1 757.0 1097.6 755.4C1106.2 753.7 1114.8 751.1 1123.4 748.8C1132.0 746.5 1140.6 744.8 1149.2 741.7C1157.8 738.6 1166.4 733.0 1175.0 730.1C1183.6 727.2 1192.2 726.4 1200.8 724.4C1209.3 722.3 1217.9 720.6 1226.5 717.8C1235.1 714.9 1243.7 712.2 1252.3 707.3C1260.9 702.4 1273.8 691.5 1278.1 688.4" fill="none" stroke="#585858" stroke-width="3.6"/>
<path fill="#585858" d="M805.4 679.7h17.4v17.4h-17.4zM831.2 698.6h17.4v17.4h-17.4zM857.0 709.1h17.4v17.4h-17.4zM882.7 715.7h17.4v17.4h-17.4zM908.5 721.4h17.4v17.4h-17.4zM934.3 733.0h17.4v17.4h-17.4zM960.1 740.1h17.4v17.4h-17.4zM985.8 746.7h17.4v17.4h-17.4zM1011.6 755.6h17.4v17.4h-17.4zM1063.2 755.6h17.4v17.4h-17.4zM1088.9 746.7h17.4v17.4h-17.4zM1114.7 740.1h17.4v17.4h-17.4zM1140.5 733.0h17.4v17.4h-17.4zM1166.3 721.4h17.4v17.4h-17.4zM1192.0 715.7h17.4v17.4h-17.4zM1217.8 709.1h17.4v17.4h-17.4zM1243.6 698.6h17.4v17.4h-17.4zM1269.4 679.7h17.4v17.4h-17.4z"/>
<rect x="788.3" y="648.0" width="515.5" height="466.9" fill="none" stroke="#000" stroke-width="3.8"/>
<path d="M839.9 1114.9v-11.5M839.9 648.0v11.5M943.0 1114.9v-11.5M943.0 648.0v11.5M1046.1 1114.9v-11.5M1046.1 648.0v11.5M1149.2 1114.9v-11.5M1149.2 648.0v11.5M1252.3 1114.9v-11.5M1252.3 648.0v11.5M891.4 1114.9v-6M891.4 648.0v6M994.5 1114.9v-6M994.5 648.0v6M1097.6 1114.9v-6M1097.6 648.0v6M1200.8 1114.9v-6M1200.8 648.0v6M788.3 1104.0h11.5M1303.8 1104.0h-11.5M788.3 990.0h11.5M1303.8 990.0h-11.5M788.3 876.0h11.5M1303.8 876.0h-11.5M788.3 762.0h11.5M1303.8 762.0h-11.5M788.3 1047.0h6M1303.8 1047.0h-6M788.3 933.0h6M1303.8 933.0h-6M788.3 819.0h6M1303.8 819.0h-6M788.3 705.0h6M1303.8 705.0h-6" stroke="#000" stroke-width="3.8" fill="none"/>
<text class="s" x="839.9" y="1151.6" text-anchor="middle">-4</text>
<text class="s" x="943.0" y="1151.6" text-anchor="middle">-2</text>
<text class="s" x="1046.1" y="1151.6" text-anchor="middle">0</text>
<text class="s" x="1149.2" y="1151.6" text-anchor="middle">2</text>
<text class="s" x="1252.3" y="1151.6" text-anchor="middle">4</text>
<text class="s" x="776.3" y="1113.4" text-anchor="end">0</text>
<text class="s" x="776.3" y="999.4" text-anchor="end">5</text>
<text class="s" x="776.3" y="885.4" text-anchor="end">10</text>
<text class="s" x="776.3" y="771.4" text-anchor="end">15</text>
<text class="s" x="776.3" y="657.4" text-anchor="end">20</text>
<text class="s" x="1046.0" y="1189.3" text-anchor="middle">Incident angle (deg)</text>
<text class="s" transform="translate(727.7,880.5) rotate(-90)" text-anchor="middle">Decay Rate (ps<tspan dy="-12" font-size="22">-1</tspan><tspan dy="12">)</tspan></text>
<path fill="#585858" d="M908.3 845.3h17.4v17.4h-17.4z"/>
<text class="s" x="936" y="865.0" style="font-size:36.6px">Γ</text>
<text class="s" x="957.7" y="873.6" style="font-size:23.6px">tot</text>
<path fill="#a07cbc" d="M1008.5 854.0a9.5 9.5 0 1 0 19.0 0a9.5 9.5 0 1 0 -19.0 0z"/>
<text class="s" x="1037" y="865.0" style="font-size:36.6px">Γ</text>
<text class="s" x="1058.7" y="873.6" style="font-size:23.6px">rad</text>
<path fill="#3b75bd" d="M1125.0 840.1l11.5 19.9h-23.0z"/>
<text class="s" x="1144" y="865.0" style="font-size:36.6px">Γ</text>
<text class="s" x="1165.7" y="873.6" style="font-size:23.6px">abs</text>
<path fill="#ee4044" d="M959.0 923.4l11.5 -19.9h-23.0z"/>
<text class="s" x="979" y="920.5" style="font-size:36.6px">Γ</text>
<text class="s" x="1000.7" y="929.1" style="font-size:23.6px">rad,</text>
<text class="s" transform="translate(1036.7,931.0) scale(1,1.42)" style="font-size:23.6px">↑</text>
<path fill="#f26c21" d="M1083.0 896.8l12.2 12.2l-12.2 12.2l-12.2 -12.2z"/>
<text class="s" x="1102" y="920.5" style="font-size:36.6px">Γ</text>
<text class="s" x="1123.7" y="929.1" style="font-size:23.6px">rad,</text>
<text class="s" transform="translate(1159.7,931.0) scale(1,1.42)" style="font-size:23.6px">↓</text>
<rect x="1468.2" y="747.0" width="17" height="17" fill="#ee4044"/>
<rect x="1483.7" y="764.0" width="17" height="17" fill="#585858"/>
<rect x="1494.0" y="775.0" width="17" height="17" fill="#ee4044"/>
<rect x="1509.5" y="781.0" width="17" height="17" fill="#585858"/>
<rect x="1519.8" y="775.0" width="17" height="17" fill="#ee4044"/>
<rect x="1525.0" y="787.8" width="17" height="17" fill="#585858"/>
<rect x="1535.3" y="791.1" width="17" height="17" fill="#585858"/>
<rect x="1545.6" y="803.9" width="17" height="17" fill="#ee4044"/>
<rect x="1555.9" y="811.5" width="17" height="17" fill="#585858"/>
<rect x="1561.1" y="820.9" width="17" height="17" fill="#585858"/>
<rect x="1571.4" y="827.7" width="17" height="17" fill="#ee4044"/>
<rect x="1582.3" y="841.3" width="17" height="17" fill="#585858"/>
<rect x="1586.9" y="854.0" width="17" height="17" fill="#585858"/>
<rect x="1597.2" y="860.9" width="17" height="17" fill="#ee4044"/>
<rect x="1602.4" y="862.5" width="17" height="17" fill="#585858"/>
<rect x="1612.7" y="881.2" width="17" height="17" fill="#585858"/>
<rect x="1623.1" y="902.5" width="17" height="17" fill="#ee4044"/>
<rect x="1633.4" y="918.6" width="17" height="17" fill="#585858"/>
<rect x="1643.7" y="933.1" width="17" height="17" fill="#585858"/>
<rect x="1648.9" y="939.0" width="17" height="17" fill="#ee4044"/>
<rect x="1654.0" y="946.7" width="17" height="17" fill="#585858"/>
<rect x="1664.4" y="962.0" width="17" height="17" fill="#585858"/>
<rect x="1674.7" y="972.2" width="17" height="17" fill="#ee4044"/>
<rect x="1685.0" y="989.2" width="17" height="17" fill="#585858"/>
<rect x="1695.3" y="1002.0" width="17" height="17" fill="#585858"/>
<rect x="1700.5" y="1005.4" width="17" height="17" fill="#ee4044"/>
<rect x="1705.7" y="1007.9" width="17" height="17" fill="#585858"/>
<rect x="1726.3" y="1033.4" width="17" height="17" fill="#ee4044"/>
<rect x="1736.6" y="1034.2" width="17" height="17" fill="#585858"/>
<rect x="1747.0" y="1043.6" width="17" height="17" fill="#585858"/>
<rect x="1752.1" y="1039.3" width="17" height="17" fill="#ee4044"/>
<rect x="1757.3" y="1043.6" width="17" height="17" fill="#585858"/>
<rect x="1767.6" y="1049.5" width="17" height="17" fill="#585858"/>
<rect x="1777.9" y="1047.0" width="17" height="17" fill="#ee4044"/>
<rect x="1788.3" y="1048.7" width="17" height="17" fill="#585858"/>
<rect x="1798.6" y="1048.7" width="17" height="17" fill="#585858"/>
<rect x="1803.8" y="1041.9" width="17" height="17" fill="#ee4044"/>
<rect x="1808.9" y="1046.2" width="17" height="17" fill="#585858"/>
<rect x="1819.2" y="1047.8" width="17" height="17" fill="#585858"/>
<rect x="1829.6" y="1034.2" width="17" height="17" fill="#ee4044"/>
<rect x="1839.9" y="1030.0" width="17" height="17" fill="#585858"/>
<rect x="1850.2" y="1027.5" width="17" height="17" fill="#585858"/>
<rect x="1855.4" y="1025.8" width="17" height="17" fill="#ee4044"/>
<rect x="1865.7" y="1024.9" width="17" height="17" fill="#585858"/>
<rect x="1876.0" y="1019.0" width="17" height="17" fill="#585858"/>
<rect x="1881.2" y="1019.0" width="17" height="17" fill="#ee4044"/>
<rect x="1891.5" y="1013.9" width="17" height="17" fill="#585858"/>
<rect x="1907.0" y="1004.5" width="17" height="17" fill="#ee4044"/>
<rect x="1917.3" y="1007.9" width="17" height="17" fill="#585858"/>
<rect x="1932.8" y="1003.6" width="17" height="17" fill="#ee4044"/>
<path d="M1476.7 726.5C1481.0 731.1 1493.9 744.0 1502.5 753.8C1511.1 763.5 1519.7 774.2 1528.3 785.2C1536.9 796.2 1545.5 807.6 1554.1 820.0C1562.7 832.5 1571.3 846.4 1579.9 860.0C1588.5 873.6 1597.1 887.8 1605.7 901.6C1614.3 915.5 1623.0 929.4 1631.6 943.3C1640.2 957.2 1648.8 971.9 1657.4 985.0C1666.0 998.0 1674.6 1010.6 1683.2 1021.5C1691.8 1032.4 1700.4 1041.9 1709.0 1050.4C1717.6 1058.9 1726.2 1066.8 1734.8 1072.5C1743.4 1078.2 1753.3 1081.9 1760.6 1084.4C1767.9 1087.0 1772.7 1087.7 1778.7 1087.8C1784.7 1087.9 1791.2 1086.7 1796.8 1085.2C1802.4 1083.8 1805.4 1083.1 1812.3 1079.3C1819.1 1075.5 1829.5 1069.1 1838.1 1062.3C1846.7 1055.5 1855.3 1047.4 1863.9 1038.5C1872.5 1029.6 1881.1 1019.2 1889.7 1008.8C1898.3 998.3 1906.9 986.6 1915.5 975.6C1924.1 964.6 1937.0 948.0 1941.3 942.5" fill="none" stroke="#ee4044" stroke-width="3.7"/>
<path fill="#3b75bd" d="M1467.2 1008.8a9.5 9.5 0 1 0 19 0a9.5 9.5 0 1 0 -19 0zM1493.0 1031.7a9.5 9.5 0 1 0 19 0a9.5 9.5 0 1 0 -19 0zM1518.8 1049.5a9.5 9.5 0 1 0 19 0a9.5 9.5 0 1 0 -19 0zM1544.6 1056.3a9.5 9.5 0 1 0 19 0a9.5 9.5 0 1 0 -19 0zM1570.4 1075.9a9.5 9.5 0 1 0 19 0a9.5 9.5 0 1 0 -19 0zM1596.2 1087.8a9.5 9.5 0 1 0 19 0a9.5 9.5 0 1 0 -19 0zM1622.1 1092.9a9.5 9.5 0 1 0 19 0a9.5 9.5 0 1 0 -19 0zM1647.9 1090.3a9.5 9.5 0 1 0 19 0a9.5 9.5 0 1 0 -19 0zM1673.7 1081.0a9.5 9.5 0 1 0 19 0a9.5 9.5 0 1 0 -19 0zM1699.5 1059.8a9.5 9.5 0 1 0 19 0a9.5 9.5 0 1 0 -19 0zM1725.3 1026.6a9.5 9.5 0 1 0 19 0a9.5 9.5 0 1 0 -19 0zM1751.1 988.4a9.5 9.5 0 1 0 19 0a9.5 9.5 0 1 0 -19 0zM1776.9 949.2a9.5 9.5 0 1 0 19 0a9.5 9.5 0 1 0 -19 0zM1802.8 901.6a9.5 9.5 0 1 0 19 0a9.5 9.5 0 1 0 -19 0zM1828.6 860.9a9.5 9.5 0 1 0 19 0a9.5 9.5 0 1 0 -19 0zM1854.4 818.3a9.5 9.5 0 1 0 19 0a9.5 9.5 0 1 0 -19 0zM1880.2 806.5a9.5 9.5 0 1 0 19 0a9.5 9.5 0 1 0 -19 0zM1906.0 764.8a9.5 9.5 0 1 0 19 0a9.5 9.5 0 1 0 -19 0zM1931.8 749.5a9.5 9.5 0 1 0 19 0a9.5 9.5 0 1 0 -19 0z"/>
<path d="M1476.7 1015.5C1479.2 1015.5 1487.9 1015.3 1492.2 1015.5C1496.5 1015.8 1496.5 1015.5 1502.5 1017.2C1508.5 1019.0 1519.7 1022.2 1528.3 1025.8C1536.9 1029.3 1545.5 1033.8 1554.1 1038.5C1562.7 1043.2 1571.3 1048.8 1579.9 1053.8C1588.5 1058.8 1597.1 1064.6 1605.7 1068.2C1614.3 1071.9 1625.5 1074.5 1631.6 1075.9C1637.6 1077.3 1637.6 1076.8 1641.9 1076.8C1646.2 1076.8 1650.5 1078.0 1657.4 1075.9C1664.3 1073.8 1674.6 1069.4 1683.2 1064.0C1691.8 1058.6 1700.4 1051.4 1709.0 1043.6C1717.6 1035.8 1726.2 1027.2 1734.8 1017.2C1743.4 1007.3 1752.0 996.9 1760.6 984.1C1769.2 971.4 1777.8 955.5 1786.4 940.8C1795.0 926.0 1803.7 910.0 1812.3 895.7C1820.9 881.4 1829.5 867.1 1838.1 854.9C1846.7 842.7 1855.3 831.4 1863.9 822.6C1872.5 813.8 1882.8 806.7 1889.7 802.2C1896.6 797.7 1900.5 796.8 1905.2 795.4C1909.9 794.0 1913.8 793.7 1918.1 793.7C1922.4 793.7 1927.1 794.4 1931.0 795.4C1934.9 796.4 1939.6 798.9 1941.3 799.6" fill="none" stroke="#34a866" stroke-width="3.7"/>
<rect x="1451.2" y="648.0" width="515.8" height="466.9" fill="none" stroke="#000" stroke-width="3.8"/>
<path d="M1502.5 1114.9v-11.5M1502.5 648.0v11.5M1605.7 1114.9v-11.5M1605.7 648.0v11.5M1709.0 1114.9v-11.5M1709.0 648.0v11.5M1812.3 1114.9v-11.5M1812.3 648.0v11.5M1915.5 1114.9v-11.5M1915.5 648.0v11.5M1554.1 1114.9v-6M1554.1 648.0v6M1657.4 1114.9v-6M1657.4 648.0v6M1760.6 1114.9v-6M1760.6 648.0v6M1863.9 1114.9v-6M1863.9 648.0v6M1451.2 1030.0h11.5M1967.0 1030.0h-11.5M1451.2 945.0h11.5M1967.0 945.0h-11.5M1451.2 860.0h11.5M1967.0 860.0h-11.5M1451.2 775.0h11.5M1967.0 775.0h-11.5M1451.2 690.0h11.5M1967.0 690.0h-11.5M1451.2 1072.5h6M1967.0 1072.5h-6M1451.2 987.5h6M1967.0 987.5h-6M1451.2 902.5h6M1967.0 902.5h-6M1451.2 817.5h6M1967.0 817.5h-6M1451.2 732.5h6M1967.0 732.5h-6" stroke="#000" stroke-width="3.8" fill="none"/>
<text class="s" x="1502.5" y="1151.6" text-anchor="middle">-4</text>
<text class="s" x="1605.7" y="1151.6" text-anchor="middle">-2</text>
<text class="s" x="1709.0" y="1151.6" text-anchor="middle">0</text>
<text class="s" x="1812.3" y="1151.6" text-anchor="middle">2</text>
<text class="s" x="1915.5" y="1151.6" text-anchor="middle">4</text>
<text class="s" x="1439.2" y="1124.4" text-anchor="end">1</text>
<text class="s" x="1439.2" y="1039.4" text-anchor="end">2</text>
<text class="s" x="1439.2" y="954.4" text-anchor="end">3</text>
<text class="s" x="1439.2" y="869.4" text-anchor="end">4</text>
<text class="s" x="1439.2" y="784.4" text-anchor="end">5</text>
<text class="s" x="1439.2" y="699.4" text-anchor="end">6</text>
<text class="s" x="1709.0" y="1189.3" text-anchor="middle">Emission angle (deg)</text>
<text class="s" transform="translate(1408.0,881.0) rotate(-90)" text-anchor="middle">Normalized PLE</text>
<rect x="1597" y="672" width="17" height="17" fill="#585858"/>
<path d="M1578 723h55" stroke="#ee4044" stroke-width="3.7"/>
<circle cx="1605.5" cy="766" r="9.5" fill="#3b75bd"/>
<path d="M1578 808.5h55" stroke="#34a866" stroke-width="3.7"/>
<text class="s" x="1641.0" y="692.0">PLE (Expt,</text>
<text class="s" transform="translate(1795.3,694.7) scale(1,1.42)">↑</text>
<text class="s" x="1812.5" y="692.0">)</text>
<text class="s" x="1641.0" y="734.5">PLE (Model,</text>
<text class="s" transform="translate(1820.1,737.2) scale(1,1.42)">↑</text>
<text class="s" x="1837.3" y="734.5">)</text>
<text class="s" x="1641.0" y="777.5">PLE (Expt,</text>
<text class="s" transform="translate(1795.3,780.2) scale(1,1.42)">↓</text>
<text class="s" x="1812.5" y="777.5">)</text>
<text class="s" x="1641.0" y="820.0">PLE (Model,</text>
<text class="s" transform="translate(1820.1,822.7) scale(1,1.42)">↓</text>
<text class="s" x="1837.3" y="820.0">)</text>
<text class="b" x="1.0" y="36.3">(a)</text>
<text class="b" x="687.0" y="36.3">(b)</text>
<text class="b" x="1351.5" y="36.3">(c)</text>
<text class="b" x="1.5" y="625.3">(d)</text>
<text class="b" x="687.5" y="625.3">(e)</text>
<text class="b" x="1353.0" y="625.3">(f)</text>
<rect x="577.1" y="69.6" width="25.4" height="467.4" fill="url(#gInf)"/>
<text class="s" x="95.9" y="79.0" text-anchor="end">500</text>
<text class="s" x="95.9" y="234.8" text-anchor="end">600</text>
<text class="s" x="95.9" y="390.6" text-anchor="end">700</text>
<text class="s" x="95.9" y="546.4" text-anchor="end">800</text>
<text class="s" x="101.7" y="571.8" text-anchor="middle">-30</text>
<text class="s" x="178.9" y="571.8" text-anchor="middle">-20</text>
<text class="s" x="256.2" y="571.8" text-anchor="middle">-10</text>
<text class="s" x="333.4" y="571.8" text-anchor="middle">0</text>
<text class="s" x="410.6" y="571.8" text-anchor="middle">10</text>
<text class="s" x="487.9" y="571.8" text-anchor="middle">20</text>
<text class="s" x="565.1" y="571.8" text-anchor="middle">30</text>
<text class="s" x="611.5" y="547.5">0</text>
<text class="s" x="611.5" y="454.0">0.2</text>
<text class="s" x="611.5" y="360.5">0.4</text>
<text class="s" x="611.5" y="267.1">0.6</text>
<text class="s" x="611.5" y="173.6">0.8</text>
<text class="s" x="611.5" y="80.1">1</text>
<text class="s" x="681.0" y="48.8" text-anchor="end">Transmission</text>
<text class="s" x="333.4" y="620.3" text-anchor="middle">Incident angle (deg)</text>
<text class="s" transform="translate(26.6,302.8) rotate(-90)" text-anchor="middle">wavelength (nm)</text>
<rect x="1263.2" y="69.6" width="25.7" height="467.4" fill="url(#gInf)"/>
<text class="s" x="782.6" y="79.0" text-anchor="end">650</text>
<text class="s" x="782.6" y="195.8" text-anchor="end">675</text>
<text class="s" x="782.6" y="312.7" text-anchor="end">700</text>
<text class="s" x="782.6" y="429.5" text-anchor="end">725</text>
<text class="s" x="782.6" y="546.4" text-anchor="end">750</text>
<text class="s" x="834.7" y="571.8" text-anchor="middle">-4</text>
<text class="s" x="927.4" y="571.8" text-anchor="middle">-2</text>
<text class="s" x="1020.0" y="571.8" text-anchor="middle">0</text>
<text class="s" x="1112.6" y="571.8" text-anchor="middle">2</text>
<text class="s" x="1205.3" y="571.8" text-anchor="middle">4</text>
<text class="s" x="1297.9" y="547.5">0</text>
<text class="s" x="1297.9" y="454.0">0.1</text>
<text class="s" x="1297.9" y="360.5">0.2</text>
<text class="s" x="1297.9" y="267.1">0.3</text>
<text class="s" x="1297.9" y="173.6">0.4</text>
<text class="s" x="1297.9" y="80.1">0.5</text>
<text class="s" x="1347.0" y="48.8" text-anchor="end">Reflection</text>
<text class="s" x="1020.0" y="620.3" text-anchor="middle">Incident angle (deg)</text>
<text class="s" transform="translate(713.0,302.8) rotate(-90)" text-anchor="middle">wavelength (nm)</text>
<rect x="1928.4" y="69.6" width="25.6" height="467.4" fill="url(#gVir)"/>
<text class="s" x="1445.4" y="79.0" text-anchor="end">700</text>
<text class="s" x="1445.4" y="195.8" text-anchor="end">710</text>
<text class="s" x="1445.4" y="312.7" text-anchor="end">720</text>
<text class="s" x="1445.4" y="429.5" text-anchor="end">730</text>
<text class="s" x="1445.4" y="546.4" text-anchor="end">740</text>
<text class="s" x="1497.6" y="571.8" text-anchor="middle">-4</text>
<text class="s" x="1590.3" y="571.8" text-anchor="middle">-2</text>
<text class="s" x="1683.1" y="571.8" text-anchor="middle">0</text>
<text class="s" x="1775.9" y="571.8" text-anchor="middle">2</text>
<text class="s" x="1868.6" y="571.8" text-anchor="middle">4</text>
<text class="s" x="1963.0" y="547.5">0</text>
<text class="s" x="1963.0" y="454.0">2</text>
<text class="s" x="1963.0" y="360.5">4</text>
<text class="s" x="1963.0" y="267.1">6</text>
<text class="s" x="1963.0" y="173.6">8</text>
<text class="s" x="1963.0" y="80.1">10</text>
<text class="s" x="1971.5" y="48.8" text-anchor="end">PLE</text>
<text class="s" x="1683.1" y="620.3" text-anchor="middle">Emission angle (deg)</text>
<text class="s" transform="translate(1375.0,302.8) rotate(-90)" text-anchor="middle">wavelength (nm)</text>
</svg>
</body></html>
